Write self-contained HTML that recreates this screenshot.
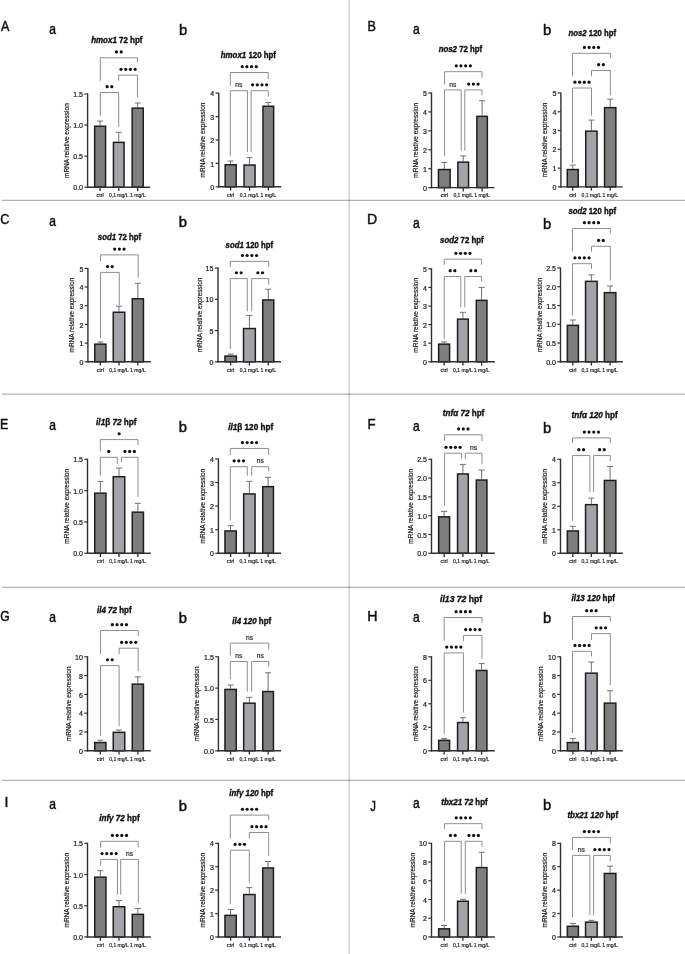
<!DOCTYPE html><html><head><meta charset="utf-8"><style>html,body{margin:0;padding:0;background:#fff;}svg{display:block;will-change:transform;}text{font-family:"Liberation Sans", sans-serif;}</style></head><body>
<svg width="685" height="954" viewBox="0 0 685 954">
<rect width="685" height="954" fill="#fff"/>
<line x1="349.15" y1="0" x2="349.15" y2="954" stroke="#000" stroke-opacity="0.24" stroke-width="1.2"/>
<line x1="2" y1="200.4" x2="685" y2="200.4" stroke="#000" stroke-opacity="0.3" stroke-width="1.2"/>
<line x1="2" y1="394.2" x2="685" y2="394.2" stroke="#000" stroke-opacity="0.3" stroke-width="1.2"/>
<line x1="2" y1="587.3" x2="685" y2="587.3" stroke="#000" stroke-opacity="0.3" stroke-width="1.2"/>
<line x1="2" y1="780.4" x2="685" y2="780.4" stroke="#000" stroke-opacity="0.3" stroke-width="1.2"/>
<line x1="100.1" y1="125.5" x2="100.1" y2="121.1" stroke="#707070" stroke-width="1"/>
<line x1="97.1" y1="121.1" x2="103.1" y2="121.1" stroke="#707070" stroke-width="1"/>
<rect x="94.65" y="126.25" width="10.9" height="60.95" fill="#7e7e7e" stroke="#1e1e1e" stroke-width="1.5"/>
<line x1="100.1" y1="187.2" x2="100.1" y2="191" stroke="#303030" stroke-width="1.3"/>
<line x1="118.75" y1="141.6" x2="118.75" y2="132.3" stroke="#707070" stroke-width="1"/>
<line x1="115.75" y1="132.3" x2="121.75" y2="132.3" stroke="#707070" stroke-width="1"/>
<rect x="113.45" y="142.35" width="10.6" height="44.85" fill="#a4a3a9" stroke="#1e1e1e" stroke-width="1.5"/>
<line x1="118.75" y1="187.2" x2="118.75" y2="191" stroke="#303030" stroke-width="1.3"/>
<line x1="137.7" y1="107.4" x2="137.7" y2="103" stroke="#707070" stroke-width="1"/>
<line x1="134.7" y1="103" x2="140.7" y2="103" stroke="#707070" stroke-width="1"/>
<rect x="132.15" y="108.15" width="11.1" height="79.05" fill="#7e7e7e" stroke="#1e1e1e" stroke-width="1.5"/>
<line x1="137.7" y1="187.2" x2="137.7" y2="191" stroke="#303030" stroke-width="1.3"/>
<line x1="87.6" y1="93.5" x2="87.6" y2="187.9" stroke="#303030" stroke-width="1.4"/>
<line x1="86.9" y1="187.2" x2="150.1" y2="187.2" stroke="#303030" stroke-width="1.4"/>
<line x1="84.4" y1="187.2" x2="87.6" y2="187.2" stroke="#303030" stroke-width="1.2"/>
<text x="83" y="190.3" font-size="7.0" text-anchor="end" fill="#1e1e1e" stroke="#1e1e1e" stroke-width="0.22">0.0</text>
<line x1="84.4" y1="156.13" x2="87.6" y2="156.13" stroke="#303030" stroke-width="1.2"/>
<text x="83" y="159.23" font-size="7.0" text-anchor="end" fill="#1e1e1e" stroke="#1e1e1e" stroke-width="0.22">0.5</text>
<line x1="84.4" y1="125.07" x2="87.6" y2="125.07" stroke="#303030" stroke-width="1.2"/>
<text x="83" y="128.17" font-size="7.0" text-anchor="end" fill="#1e1e1e" stroke="#1e1e1e" stroke-width="0.22">1.0</text>
<line x1="84.4" y1="94" x2="87.6" y2="94" stroke="#303030" stroke-width="1.2"/>
<text x="83" y="97.1" font-size="7.0" text-anchor="end" fill="#1e1e1e" stroke="#1e1e1e" stroke-width="0.22">1.5</text>
<text transform="translate(67.7 140.6) rotate(-90)" font-size="6.5" text-anchor="middle" fill="#1e1e1e" stroke="#1e1e1e" stroke-width="0.2" y="1.4">mRNA relative expression</text>
<text x="100.1" y="197" font-size="5.6" text-anchor="middle" fill="#1e1e1e" stroke="#1e1e1e" stroke-width="0.2" textLength="7.1" lengthAdjust="spacingAndGlyphs">ctrl</text>
<text x="118.75" y="197" font-size="5.6" text-anchor="middle" fill="#1e1e1e" stroke="#1e1e1e" stroke-width="0.2" textLength="19.6" lengthAdjust="spacingAndGlyphs">0,1 mg/L</text>
<text x="137.7" y="197" font-size="5.6" text-anchor="middle" fill="#1e1e1e" stroke="#1e1e1e" stroke-width="0.2" textLength="15.6" lengthAdjust="spacingAndGlyphs">1 mg/L</text>
<path d="M100.3 80.7V57.8H137.4V62.5" fill="none" stroke="#8e8e8e" stroke-width="1"/>
<circle cx="116.5" cy="51.95" r="1.6" fill="#111"/>
<circle cx="121.2" cy="51.95" r="1.6" fill="#111"/>
<path d="M118.7 80.7V75.15H137.4V97.7" fill="none" stroke="#8e8e8e" stroke-width="1"/>
<circle cx="121" cy="69.3" r="1.6" fill="#111"/>
<circle cx="125.7" cy="69.3" r="1.6" fill="#111"/>
<circle cx="130.4" cy="69.3" r="1.6" fill="#111"/>
<circle cx="135.1" cy="69.3" r="1.6" fill="#111"/>
<path d="M100.3 115.8V92.5H118.7V126.8" fill="none" stroke="#8e8e8e" stroke-width="1"/>
<circle cx="107.15" cy="86.65" r="1.6" fill="#111"/>
<circle cx="111.85" cy="86.65" r="1.6" fill="#111"/>
<text x="91.2" y="43" font-size="8.4" font-weight="bold" fill="#111" stroke="#111" stroke-width="0.35" textLength="51.3" lengthAdjust="spacingAndGlyphs"><tspan font-style="italic">hmox1</tspan><tspan> 72 hpf</tspan></text>
<line x1="230.65" y1="164" x2="230.65" y2="161" stroke="#707070" stroke-width="1"/>
<line x1="227.65" y1="161" x2="233.65" y2="161" stroke="#707070" stroke-width="1"/>
<rect x="225.15" y="164.75" width="11" height="22.05" fill="#7e7e7e" stroke="#1e1e1e" stroke-width="1.5"/>
<line x1="230.65" y1="186.8" x2="230.65" y2="190.6" stroke="#303030" stroke-width="1.3"/>
<line x1="249.55" y1="164.3" x2="249.55" y2="157.7" stroke="#707070" stroke-width="1"/>
<line x1="246.55" y1="157.7" x2="252.55" y2="157.7" stroke="#707070" stroke-width="1"/>
<rect x="244.05" y="165.05" width="11" height="21.75" fill="#a4a3a9" stroke="#1e1e1e" stroke-width="1.5"/>
<line x1="249.55" y1="186.8" x2="249.55" y2="190.6" stroke="#303030" stroke-width="1.3"/>
<line x1="268.3" y1="105.5" x2="268.3" y2="102.5" stroke="#707070" stroke-width="1"/>
<line x1="265.3" y1="102.5" x2="271.3" y2="102.5" stroke="#707070" stroke-width="1"/>
<rect x="262.95" y="106.25" width="10.7" height="80.55" fill="#7e7e7e" stroke="#1e1e1e" stroke-width="1.5"/>
<line x1="268.3" y1="186.8" x2="268.3" y2="190.6" stroke="#303030" stroke-width="1.3"/>
<line x1="218.8" y1="92.7" x2="218.8" y2="187.5" stroke="#303030" stroke-width="1.4"/>
<line x1="218.1" y1="186.8" x2="281.2" y2="186.8" stroke="#303030" stroke-width="1.4"/>
<line x1="215.6" y1="186.8" x2="218.8" y2="186.8" stroke="#303030" stroke-width="1.2"/>
<text x="214.2" y="189.9" font-size="7.0" text-anchor="end" fill="#1e1e1e" stroke="#1e1e1e" stroke-width="0.22">0</text>
<line x1="215.6" y1="163.4" x2="218.8" y2="163.4" stroke="#303030" stroke-width="1.2"/>
<text x="214.2" y="166.5" font-size="7.0" text-anchor="end" fill="#1e1e1e" stroke="#1e1e1e" stroke-width="0.22">1</text>
<line x1="215.6" y1="140" x2="218.8" y2="140" stroke="#303030" stroke-width="1.2"/>
<text x="214.2" y="143.1" font-size="7.0" text-anchor="end" fill="#1e1e1e" stroke="#1e1e1e" stroke-width="0.22">2</text>
<line x1="215.6" y1="116.6" x2="218.8" y2="116.6" stroke="#303030" stroke-width="1.2"/>
<text x="214.2" y="119.7" font-size="7.0" text-anchor="end" fill="#1e1e1e" stroke="#1e1e1e" stroke-width="0.22">3</text>
<line x1="215.6" y1="93.2" x2="218.8" y2="93.2" stroke="#303030" stroke-width="1.2"/>
<text x="214.2" y="96.3" font-size="7.0" text-anchor="end" fill="#1e1e1e" stroke="#1e1e1e" stroke-width="0.22">4</text>
<text transform="translate(203.7 140) rotate(-90)" font-size="6.5" text-anchor="middle" fill="#1e1e1e" stroke="#1e1e1e" stroke-width="0.2" y="1.4">mRNA relative expression</text>
<text x="230.65" y="196.6" font-size="5.6" text-anchor="middle" fill="#1e1e1e" stroke="#1e1e1e" stroke-width="0.2" textLength="7.1" lengthAdjust="spacingAndGlyphs">ctrl</text>
<text x="249.55" y="196.6" font-size="5.6" text-anchor="middle" fill="#1e1e1e" stroke="#1e1e1e" stroke-width="0.2" textLength="19.6" lengthAdjust="spacingAndGlyphs">0,1 mg/L</text>
<text x="268.3" y="196.6" font-size="5.6" text-anchor="middle" fill="#1e1e1e" stroke="#1e1e1e" stroke-width="0.2" textLength="15.6" lengthAdjust="spacingAndGlyphs">1 mg/L</text>
<path d="M230.3 85.7V72.5H268.2V79" fill="none" stroke="#8e8e8e" stroke-width="1"/>
<circle cx="242.2" cy="66.65" r="1.6" fill="#111"/>
<circle cx="246.9" cy="66.65" r="1.6" fill="#111"/>
<circle cx="251.6" cy="66.65" r="1.6" fill="#111"/>
<circle cx="256.3" cy="66.65" r="1.6" fill="#111"/>
<path d="M230.3 155.8V90.7H247.4V152" fill="none" stroke="#8e8e8e" stroke-width="1"/>
<text x="238.85" y="87.3" font-size="6.7" text-anchor="middle" fill="#333" stroke="#333" stroke-width="0.22">ns</text>
<path d="M251.1 152V90.7H268.2V96.5" fill="none" stroke="#8e8e8e" stroke-width="1"/>
<circle cx="252.6" cy="84.85" r="1.6" fill="#111"/>
<circle cx="257.3" cy="84.85" r="1.6" fill="#111"/>
<circle cx="262" cy="84.85" r="1.6" fill="#111"/>
<circle cx="266.7" cy="84.85" r="1.6" fill="#111"/>
<text x="220.8" y="58.1" font-size="8.4" font-weight="bold" fill="#111" stroke="#111" stroke-width="0.35" textLength="55.2" lengthAdjust="spacingAndGlyphs"><tspan font-style="italic">hmox1</tspan><tspan> 120 hpf</tspan></text>
<line x1="444.3" y1="168.8" x2="444.3" y2="162.4" stroke="#707070" stroke-width="1"/>
<line x1="441.3" y1="162.4" x2="447.3" y2="162.4" stroke="#707070" stroke-width="1"/>
<rect x="438.45" y="169.55" width="11.7" height="18.05" fill="#7e7e7e" stroke="#1e1e1e" stroke-width="1.5"/>
<line x1="444.3" y1="187.6" x2="444.3" y2="191.4" stroke="#303030" stroke-width="1.3"/>
<line x1="463.2" y1="161.4" x2="463.2" y2="155.9" stroke="#707070" stroke-width="1"/>
<line x1="460.2" y1="155.9" x2="466.2" y2="155.9" stroke="#707070" stroke-width="1"/>
<rect x="457.85" y="162.15" width="10.7" height="25.45" fill="#a4a3a9" stroke="#1e1e1e" stroke-width="1.5"/>
<line x1="463.2" y1="187.6" x2="463.2" y2="191.4" stroke="#303030" stroke-width="1.3"/>
<line x1="482.1" y1="115.6" x2="482.1" y2="100.7" stroke="#707070" stroke-width="1"/>
<line x1="479.1" y1="100.7" x2="485.1" y2="100.7" stroke="#707070" stroke-width="1"/>
<rect x="476.85" y="116.35" width="10.5" height="71.25" fill="#7e7e7e" stroke="#1e1e1e" stroke-width="1.5"/>
<line x1="482.1" y1="187.6" x2="482.1" y2="191.4" stroke="#303030" stroke-width="1.3"/>
<line x1="431.5" y1="92.5" x2="431.5" y2="188.3" stroke="#303030" stroke-width="1.4"/>
<line x1="430.8" y1="187.6" x2="494.5" y2="187.6" stroke="#303030" stroke-width="1.4"/>
<line x1="428.3" y1="187.6" x2="431.5" y2="187.6" stroke="#303030" stroke-width="1.2"/>
<text x="426.9" y="190.7" font-size="7.0" text-anchor="end" fill="#1e1e1e" stroke="#1e1e1e" stroke-width="0.22">0</text>
<line x1="428.3" y1="168.68" x2="431.5" y2="168.68" stroke="#303030" stroke-width="1.2"/>
<text x="426.9" y="171.78" font-size="7.0" text-anchor="end" fill="#1e1e1e" stroke="#1e1e1e" stroke-width="0.22">1</text>
<line x1="428.3" y1="149.76" x2="431.5" y2="149.76" stroke="#303030" stroke-width="1.2"/>
<text x="426.9" y="152.86" font-size="7.0" text-anchor="end" fill="#1e1e1e" stroke="#1e1e1e" stroke-width="0.22">2</text>
<line x1="428.3" y1="130.84" x2="431.5" y2="130.84" stroke="#303030" stroke-width="1.2"/>
<text x="426.9" y="133.94" font-size="7.0" text-anchor="end" fill="#1e1e1e" stroke="#1e1e1e" stroke-width="0.22">3</text>
<line x1="428.3" y1="111.92" x2="431.5" y2="111.92" stroke="#303030" stroke-width="1.2"/>
<text x="426.9" y="115.02" font-size="7.0" text-anchor="end" fill="#1e1e1e" stroke="#1e1e1e" stroke-width="0.22">4</text>
<line x1="428.3" y1="93" x2="431.5" y2="93" stroke="#303030" stroke-width="1.2"/>
<text x="426.9" y="96.1" font-size="7.0" text-anchor="end" fill="#1e1e1e" stroke="#1e1e1e" stroke-width="0.22">5</text>
<text transform="translate(417 140.3) rotate(-90)" font-size="6.5" text-anchor="middle" fill="#1e1e1e" stroke="#1e1e1e" stroke-width="0.2" y="1.4">mRNA relative expression</text>
<text x="444.3" y="197.4" font-size="5.6" text-anchor="middle" fill="#1e1e1e" stroke="#1e1e1e" stroke-width="0.2" textLength="7.1" lengthAdjust="spacingAndGlyphs">ctrl</text>
<text x="463.2" y="197.4" font-size="5.6" text-anchor="middle" fill="#1e1e1e" stroke="#1e1e1e" stroke-width="0.2" textLength="19.6" lengthAdjust="spacingAndGlyphs">0,1 mg/L</text>
<text x="482.1" y="197.4" font-size="5.6" text-anchor="middle" fill="#1e1e1e" stroke="#1e1e1e" stroke-width="0.2" textLength="15.6" lengthAdjust="spacingAndGlyphs">1 mg/L</text>
<path d="M444.6 84.4V71.7H482V77.8" fill="none" stroke="#8e8e8e" stroke-width="1"/>
<circle cx="456.25" cy="65.85" r="1.6" fill="#111"/>
<circle cx="460.95" cy="65.85" r="1.6" fill="#111"/>
<circle cx="465.65" cy="65.85" r="1.6" fill="#111"/>
<circle cx="470.35" cy="65.85" r="1.6" fill="#111"/>
<path d="M444.6 155.9V89.9H461.2V150.8" fill="none" stroke="#8e8e8e" stroke-width="1"/>
<text x="452.9" y="86.5" font-size="6.7" text-anchor="middle" fill="#333" stroke="#333" stroke-width="0.22">ns</text>
<path d="M464.8 150.8V89.9H482V95.2" fill="none" stroke="#8e8e8e" stroke-width="1"/>
<circle cx="468.7" cy="84.05" r="1.6" fill="#111"/>
<circle cx="473.4" cy="84.05" r="1.6" fill="#111"/>
<circle cx="478.1" cy="84.05" r="1.6" fill="#111"/>
<text x="438.7" y="52.1" font-size="8.4" font-weight="bold" fill="#111" stroke="#111" stroke-width="0.35" textLength="43.5" lengthAdjust="spacingAndGlyphs"><tspan font-style="italic">nos2</tspan><tspan> 72 hpf</tspan></text>
<line x1="572.75" y1="168.8" x2="572.75" y2="165.1" stroke="#707070" stroke-width="1"/>
<line x1="569.75" y1="165.1" x2="575.75" y2="165.1" stroke="#707070" stroke-width="1"/>
<rect x="567.25" y="169.55" width="11" height="17.35" fill="#7e7e7e" stroke="#1e1e1e" stroke-width="1.5"/>
<line x1="572.75" y1="186.9" x2="572.75" y2="190.7" stroke="#303030" stroke-width="1.3"/>
<line x1="591.4" y1="130.4" x2="591.4" y2="120.1" stroke="#707070" stroke-width="1"/>
<line x1="588.4" y1="120.1" x2="594.4" y2="120.1" stroke="#707070" stroke-width="1"/>
<rect x="585.75" y="131.15" width="11.3" height="55.75" fill="#a4a3a9" stroke="#1e1e1e" stroke-width="1.5"/>
<line x1="591.4" y1="186.9" x2="591.4" y2="190.7" stroke="#303030" stroke-width="1.3"/>
<line x1="610.2" y1="106.9" x2="610.2" y2="99.1" stroke="#707070" stroke-width="1"/>
<line x1="607.2" y1="99.1" x2="613.2" y2="99.1" stroke="#707070" stroke-width="1"/>
<rect x="604.55" y="107.65" width="11.3" height="79.25" fill="#7e7e7e" stroke="#1e1e1e" stroke-width="1.5"/>
<line x1="610.2" y1="186.9" x2="610.2" y2="190.7" stroke="#303030" stroke-width="1.3"/>
<line x1="560.9" y1="92.5" x2="560.9" y2="187.6" stroke="#303030" stroke-width="1.4"/>
<line x1="560.2" y1="186.9" x2="622.8" y2="186.9" stroke="#303030" stroke-width="1.4"/>
<line x1="557.7" y1="186.9" x2="560.9" y2="186.9" stroke="#303030" stroke-width="1.2"/>
<text x="556.3" y="190" font-size="7.0" text-anchor="end" fill="#1e1e1e" stroke="#1e1e1e" stroke-width="0.22">0</text>
<line x1="557.7" y1="168.12" x2="560.9" y2="168.12" stroke="#303030" stroke-width="1.2"/>
<text x="556.3" y="171.22" font-size="7.0" text-anchor="end" fill="#1e1e1e" stroke="#1e1e1e" stroke-width="0.22">1</text>
<line x1="557.7" y1="149.34" x2="560.9" y2="149.34" stroke="#303030" stroke-width="1.2"/>
<text x="556.3" y="152.44" font-size="7.0" text-anchor="end" fill="#1e1e1e" stroke="#1e1e1e" stroke-width="0.22">2</text>
<line x1="557.7" y1="130.56" x2="560.9" y2="130.56" stroke="#303030" stroke-width="1.2"/>
<text x="556.3" y="133.66" font-size="7.0" text-anchor="end" fill="#1e1e1e" stroke="#1e1e1e" stroke-width="0.22">3</text>
<line x1="557.7" y1="111.78" x2="560.9" y2="111.78" stroke="#303030" stroke-width="1.2"/>
<text x="556.3" y="114.88" font-size="7.0" text-anchor="end" fill="#1e1e1e" stroke="#1e1e1e" stroke-width="0.22">4</text>
<line x1="557.7" y1="93" x2="560.9" y2="93" stroke="#303030" stroke-width="1.2"/>
<text x="556.3" y="96.1" font-size="7.0" text-anchor="end" fill="#1e1e1e" stroke="#1e1e1e" stroke-width="0.22">5</text>
<text transform="translate(545.5 139.95) rotate(-90)" font-size="6.5" text-anchor="middle" fill="#1e1e1e" stroke="#1e1e1e" stroke-width="0.2" y="1.4">mRNA relative expression</text>
<text x="572.75" y="196.7" font-size="5.6" text-anchor="middle" fill="#1e1e1e" stroke="#1e1e1e" stroke-width="0.2" textLength="7.1" lengthAdjust="spacingAndGlyphs">ctrl</text>
<text x="591.4" y="196.7" font-size="5.6" text-anchor="middle" fill="#1e1e1e" stroke="#1e1e1e" stroke-width="0.2" textLength="19.6" lengthAdjust="spacingAndGlyphs">0,1 mg/L</text>
<text x="610.2" y="196.7" font-size="5.6" text-anchor="middle" fill="#1e1e1e" stroke="#1e1e1e" stroke-width="0.2" textLength="15.6" lengthAdjust="spacingAndGlyphs">1 mg/L</text>
<path d="M572.5 76.3V53.3H610.4V57.8" fill="none" stroke="#8e8e8e" stroke-width="1"/>
<circle cx="584.4" cy="47.45" r="1.6" fill="#111"/>
<circle cx="589.1" cy="47.45" r="1.6" fill="#111"/>
<circle cx="593.8" cy="47.45" r="1.6" fill="#111"/>
<circle cx="598.5" cy="47.45" r="1.6" fill="#111"/>
<path d="M591.5 76.3V70.5H610.4V95.2" fill="none" stroke="#8e8e8e" stroke-width="1"/>
<circle cx="598.6" cy="64.65" r="1.6" fill="#111"/>
<circle cx="603.3" cy="64.65" r="1.6" fill="#111"/>
<path d="M572.5 163V88H591.5V115.6" fill="none" stroke="#8e8e8e" stroke-width="1"/>
<circle cx="574.95" cy="82.15" r="1.6" fill="#111"/>
<circle cx="579.65" cy="82.15" r="1.6" fill="#111"/>
<circle cx="584.35" cy="82.15" r="1.6" fill="#111"/>
<circle cx="589.05" cy="82.15" r="1.6" fill="#111"/>
<text x="568.6" y="35.8" font-size="8.4" font-weight="bold" fill="#111" stroke="#111" stroke-width="0.35" textLength="47.4" lengthAdjust="spacingAndGlyphs"><tspan font-style="italic">nos2</tspan><tspan> 120 hpf</tspan></text>
<line x1="100.35" y1="343.4" x2="100.35" y2="342" stroke="#707070" stroke-width="1"/>
<line x1="97.35" y1="342" x2="103.35" y2="342" stroke="#707070" stroke-width="1"/>
<rect x="94.75" y="344.15" width="11.2" height="17.65" fill="#7e7e7e" stroke="#1e1e1e" stroke-width="1.5"/>
<line x1="100.35" y1="361.8" x2="100.35" y2="365.6" stroke="#303030" stroke-width="1.3"/>
<line x1="119" y1="311.5" x2="119" y2="306.2" stroke="#707070" stroke-width="1"/>
<line x1="116" y1="306.2" x2="122" y2="306.2" stroke="#707070" stroke-width="1"/>
<rect x="113.25" y="312.25" width="11.5" height="49.55" fill="#a4a3a9" stroke="#1e1e1e" stroke-width="1.5"/>
<line x1="119" y1="361.8" x2="119" y2="365.6" stroke="#303030" stroke-width="1.3"/>
<line x1="137.85" y1="298" x2="137.85" y2="283.3" stroke="#707070" stroke-width="1"/>
<line x1="134.85" y1="283.3" x2="140.85" y2="283.3" stroke="#707070" stroke-width="1"/>
<rect x="132.25" y="298.75" width="11.2" height="63.05" fill="#7e7e7e" stroke="#1e1e1e" stroke-width="1.5"/>
<line x1="137.85" y1="361.8" x2="137.85" y2="365.6" stroke="#303030" stroke-width="1.3"/>
<line x1="87.9" y1="267.9" x2="87.9" y2="362.5" stroke="#303030" stroke-width="1.4"/>
<line x1="87.2" y1="361.8" x2="150.8" y2="361.8" stroke="#303030" stroke-width="1.4"/>
<line x1="84.7" y1="361.8" x2="87.9" y2="361.8" stroke="#303030" stroke-width="1.2"/>
<text x="83.3" y="364.9" font-size="7.0" text-anchor="end" fill="#1e1e1e" stroke="#1e1e1e" stroke-width="0.22">0</text>
<line x1="84.7" y1="343.12" x2="87.9" y2="343.12" stroke="#303030" stroke-width="1.2"/>
<text x="83.3" y="346.22" font-size="7.0" text-anchor="end" fill="#1e1e1e" stroke="#1e1e1e" stroke-width="0.22">1</text>
<line x1="84.7" y1="324.44" x2="87.9" y2="324.44" stroke="#303030" stroke-width="1.2"/>
<text x="83.3" y="327.54" font-size="7.0" text-anchor="end" fill="#1e1e1e" stroke="#1e1e1e" stroke-width="0.22">2</text>
<line x1="84.7" y1="305.76" x2="87.9" y2="305.76" stroke="#303030" stroke-width="1.2"/>
<text x="83.3" y="308.86" font-size="7.0" text-anchor="end" fill="#1e1e1e" stroke="#1e1e1e" stroke-width="0.22">3</text>
<line x1="84.7" y1="287.08" x2="87.9" y2="287.08" stroke="#303030" stroke-width="1.2"/>
<text x="83.3" y="290.18" font-size="7.0" text-anchor="end" fill="#1e1e1e" stroke="#1e1e1e" stroke-width="0.22">4</text>
<line x1="84.7" y1="268.4" x2="87.9" y2="268.4" stroke="#303030" stroke-width="1.2"/>
<text x="83.3" y="271.5" font-size="7.0" text-anchor="end" fill="#1e1e1e" stroke="#1e1e1e" stroke-width="0.22">5</text>
<text transform="translate(73 315.1) rotate(-90)" font-size="6.5" text-anchor="middle" fill="#1e1e1e" stroke="#1e1e1e" stroke-width="0.2" y="1.4">mRNA relative expression</text>
<text x="100.35" y="371.6" font-size="5.6" text-anchor="middle" fill="#1e1e1e" stroke="#1e1e1e" stroke-width="0.2" textLength="7.1" lengthAdjust="spacingAndGlyphs">ctrl</text>
<text x="119" y="371.6" font-size="5.6" text-anchor="middle" fill="#1e1e1e" stroke="#1e1e1e" stroke-width="0.2" textLength="19.6" lengthAdjust="spacingAndGlyphs">0,1 mg/L</text>
<text x="137.85" y="371.6" font-size="5.6" text-anchor="middle" fill="#1e1e1e" stroke="#1e1e1e" stroke-width="0.2" textLength="15.6" lengthAdjust="spacingAndGlyphs">1 mg/L</text>
<path d="M100.5 261.1V254.9H138.2V277.6" fill="none" stroke="#8e8e8e" stroke-width="1"/>
<circle cx="114.65" cy="249.05" r="1.6" fill="#111"/>
<circle cx="119.35" cy="249.05" r="1.6" fill="#111"/>
<circle cx="124.05" cy="249.05" r="1.6" fill="#111"/>
<path d="M100.5 337.8V272.4H119.3V305.1" fill="none" stroke="#8e8e8e" stroke-width="1"/>
<circle cx="107.55" cy="266.55" r="1.6" fill="#111"/>
<circle cx="112.25" cy="266.55" r="1.6" fill="#111"/>
<text x="97.8" y="240.2" font-size="8.4" font-weight="bold" fill="#111" stroke="#111" stroke-width="0.35" textLength="43.3" lengthAdjust="spacingAndGlyphs"><tspan font-style="italic">sod1</tspan><tspan> 72 hpf</tspan></text>
<line x1="230.65" y1="355.35" x2="230.65" y2="354.2" stroke="#707070" stroke-width="1"/>
<line x1="227.65" y1="354.2" x2="233.65" y2="354.2" stroke="#707070" stroke-width="1"/>
<rect x="224.95" y="356.1" width="11.4" height="5.7" fill="#7e7e7e" stroke="#1e1e1e" stroke-width="1.5"/>
<line x1="230.65" y1="361.8" x2="230.65" y2="365.6" stroke="#303030" stroke-width="1.3"/>
<line x1="249.43" y1="327.8" x2="249.43" y2="315.4" stroke="#707070" stroke-width="1"/>
<line x1="246.43" y1="315.4" x2="252.43" y2="315.4" stroke="#707070" stroke-width="1"/>
<rect x="243.5" y="328.55" width="11.85" height="33.25" fill="#a4a3a9" stroke="#1e1e1e" stroke-width="1.5"/>
<line x1="249.43" y1="361.8" x2="249.43" y2="365.6" stroke="#303030" stroke-width="1.3"/>
<line x1="268.25" y1="299.2" x2="268.25" y2="289.2" stroke="#707070" stroke-width="1"/>
<line x1="265.25" y1="289.2" x2="271.25" y2="289.2" stroke="#707070" stroke-width="1"/>
<rect x="262.75" y="299.95" width="11" height="61.85" fill="#7e7e7e" stroke="#1e1e1e" stroke-width="1.5"/>
<line x1="268.25" y1="361.8" x2="268.25" y2="365.6" stroke="#303030" stroke-width="1.3"/>
<line x1="218" y1="267.5" x2="218" y2="362.5" stroke="#303030" stroke-width="1.4"/>
<line x1="217.3" y1="361.8" x2="281" y2="361.8" stroke="#303030" stroke-width="1.4"/>
<line x1="214.8" y1="361.8" x2="218" y2="361.8" stroke="#303030" stroke-width="1.2"/>
<text x="213.4" y="364.9" font-size="7.0" text-anchor="end" fill="#1e1e1e" stroke="#1e1e1e" stroke-width="0.22">0</text>
<line x1="214.8" y1="330.53" x2="218" y2="330.53" stroke="#303030" stroke-width="1.2"/>
<text x="213.4" y="333.63" font-size="7.0" text-anchor="end" fill="#1e1e1e" stroke="#1e1e1e" stroke-width="0.22">5</text>
<line x1="214.8" y1="299.27" x2="218" y2="299.27" stroke="#303030" stroke-width="1.2"/>
<text x="213.4" y="302.37" font-size="7.0" text-anchor="end" fill="#1e1e1e" stroke="#1e1e1e" stroke-width="0.22">10</text>
<line x1="214.8" y1="268" x2="218" y2="268" stroke="#303030" stroke-width="1.2"/>
<text x="213.4" y="271.1" font-size="7.0" text-anchor="end" fill="#1e1e1e" stroke="#1e1e1e" stroke-width="0.22">15</text>
<text transform="translate(200.6 314.9) rotate(-90)" font-size="6.5" text-anchor="middle" fill="#1e1e1e" stroke="#1e1e1e" stroke-width="0.2" y="1.4">mRNA relative expression</text>
<text x="230.65" y="371.6" font-size="5.6" text-anchor="middle" fill="#1e1e1e" stroke="#1e1e1e" stroke-width="0.2" textLength="7.1" lengthAdjust="spacingAndGlyphs">ctrl</text>
<text x="249.43" y="371.6" font-size="5.6" text-anchor="middle" fill="#1e1e1e" stroke="#1e1e1e" stroke-width="0.2" textLength="19.6" lengthAdjust="spacingAndGlyphs">0,1 mg/L</text>
<text x="268.25" y="371.6" font-size="5.6" text-anchor="middle" fill="#1e1e1e" stroke="#1e1e1e" stroke-width="0.2" textLength="15.6" lengthAdjust="spacingAndGlyphs">1 mg/L</text>
<path d="M230.3 267V261.35H268.7V267" fill="none" stroke="#8e8e8e" stroke-width="1"/>
<circle cx="242.45" cy="255.5" r="1.6" fill="#111"/>
<circle cx="247.15" cy="255.5" r="1.6" fill="#111"/>
<circle cx="251.85" cy="255.5" r="1.6" fill="#111"/>
<circle cx="256.55" cy="255.5" r="1.6" fill="#111"/>
<path d="M230.3 349V278.6H247.3V311.3" fill="none" stroke="#8e8e8e" stroke-width="1"/>
<circle cx="236.45" cy="272.75" r="1.6" fill="#111"/>
<circle cx="241.15" cy="272.75" r="1.6" fill="#111"/>
<path d="M251.7 311.3V278.6H268.7V284.7" fill="none" stroke="#8e8e8e" stroke-width="1"/>
<circle cx="257.85" cy="272.75" r="1.6" fill="#111"/>
<circle cx="262.55" cy="272.75" r="1.6" fill="#111"/>
<text x="225.6" y="247.7" font-size="8.4" font-weight="bold" fill="#111" stroke="#111" stroke-width="0.35" textLength="47.6" lengthAdjust="spacingAndGlyphs"><tspan font-style="italic">sod1</tspan><tspan> 120 hpf</tspan></text>
<line x1="444.12" y1="343.4" x2="444.12" y2="342" stroke="#707070" stroke-width="1"/>
<line x1="441.12" y1="342" x2="447.12" y2="342" stroke="#707070" stroke-width="1"/>
<rect x="438.65" y="344.15" width="10.95" height="17.65" fill="#7e7e7e" stroke="#1e1e1e" stroke-width="1.5"/>
<line x1="444.12" y1="361.8" x2="444.12" y2="365.6" stroke="#303030" stroke-width="1.3"/>
<line x1="462.9" y1="318.4" x2="462.9" y2="312.3" stroke="#707070" stroke-width="1"/>
<line x1="459.9" y1="312.3" x2="465.9" y2="312.3" stroke="#707070" stroke-width="1"/>
<rect x="457.55" y="319.15" width="10.7" height="42.65" fill="#a4a3a9" stroke="#1e1e1e" stroke-width="1.5"/>
<line x1="462.9" y1="361.8" x2="462.9" y2="365.6" stroke="#303030" stroke-width="1.3"/>
<line x1="481.62" y1="299.6" x2="481.62" y2="287.4" stroke="#707070" stroke-width="1"/>
<line x1="478.62" y1="287.4" x2="484.62" y2="287.4" stroke="#707070" stroke-width="1"/>
<rect x="476.3" y="300.35" width="10.65" height="61.45" fill="#7e7e7e" stroke="#1e1e1e" stroke-width="1.5"/>
<line x1="481.62" y1="361.8" x2="481.62" y2="365.6" stroke="#303030" stroke-width="1.3"/>
<line x1="431.5" y1="268.3" x2="431.5" y2="362.5" stroke="#303030" stroke-width="1.4"/>
<line x1="430.8" y1="361.8" x2="494.8" y2="361.8" stroke="#303030" stroke-width="1.4"/>
<line x1="428.3" y1="361.8" x2="431.5" y2="361.8" stroke="#303030" stroke-width="1.2"/>
<text x="426.9" y="364.9" font-size="7.0" text-anchor="end" fill="#1e1e1e" stroke="#1e1e1e" stroke-width="0.22">0</text>
<line x1="428.3" y1="343.2" x2="431.5" y2="343.2" stroke="#303030" stroke-width="1.2"/>
<text x="426.9" y="346.3" font-size="7.0" text-anchor="end" fill="#1e1e1e" stroke="#1e1e1e" stroke-width="0.22">1</text>
<line x1="428.3" y1="324.6" x2="431.5" y2="324.6" stroke="#303030" stroke-width="1.2"/>
<text x="426.9" y="327.7" font-size="7.0" text-anchor="end" fill="#1e1e1e" stroke="#1e1e1e" stroke-width="0.22">2</text>
<line x1="428.3" y1="306" x2="431.5" y2="306" stroke="#303030" stroke-width="1.2"/>
<text x="426.9" y="309.1" font-size="7.0" text-anchor="end" fill="#1e1e1e" stroke="#1e1e1e" stroke-width="0.22">3</text>
<line x1="428.3" y1="287.4" x2="431.5" y2="287.4" stroke="#303030" stroke-width="1.2"/>
<text x="426.9" y="290.5" font-size="7.0" text-anchor="end" fill="#1e1e1e" stroke="#1e1e1e" stroke-width="0.22">4</text>
<line x1="428.3" y1="268.8" x2="431.5" y2="268.8" stroke="#303030" stroke-width="1.2"/>
<text x="426.9" y="271.9" font-size="7.0" text-anchor="end" fill="#1e1e1e" stroke="#1e1e1e" stroke-width="0.22">5</text>
<text transform="translate(417 315.3) rotate(-90)" font-size="6.5" text-anchor="middle" fill="#1e1e1e" stroke="#1e1e1e" stroke-width="0.2" y="1.4">mRNA relative expression</text>
<text x="444.12" y="371.6" font-size="5.6" text-anchor="middle" fill="#1e1e1e" stroke="#1e1e1e" stroke-width="0.2" textLength="7.1" lengthAdjust="spacingAndGlyphs">ctrl</text>
<text x="462.9" y="371.6" font-size="5.6" text-anchor="middle" fill="#1e1e1e" stroke="#1e1e1e" stroke-width="0.2" textLength="19.6" lengthAdjust="spacingAndGlyphs">0,1 mg/L</text>
<text x="481.62" y="371.6" font-size="5.6" text-anchor="middle" fill="#1e1e1e" stroke="#1e1e1e" stroke-width="0.2" textLength="15.6" lengthAdjust="spacingAndGlyphs">1 mg/L</text>
<path d="M444.2 264.8V259.2H481.6V264.8" fill="none" stroke="#8e8e8e" stroke-width="1"/>
<circle cx="455.85" cy="253.35" r="1.6" fill="#111"/>
<circle cx="460.55" cy="253.35" r="1.6" fill="#111"/>
<circle cx="465.25" cy="253.35" r="1.6" fill="#111"/>
<circle cx="469.95" cy="253.35" r="1.6" fill="#111"/>
<path d="M444.2 338.9V276.5H460.8V307.2" fill="none" stroke="#8e8e8e" stroke-width="1"/>
<circle cx="450.15" cy="270.65" r="1.6" fill="#111"/>
<circle cx="454.85" cy="270.65" r="1.6" fill="#111"/>
<path d="M464.8 307.2V276.5H481.6V281.7" fill="none" stroke="#8e8e8e" stroke-width="1"/>
<circle cx="470.85" cy="270.65" r="1.6" fill="#111"/>
<circle cx="475.55" cy="270.65" r="1.6" fill="#111"/>
<text x="440.1" y="243.2" font-size="8.4" font-weight="bold" fill="#111" stroke="#111" stroke-width="0.35" textLength="43.5" lengthAdjust="spacingAndGlyphs"><tspan font-style="italic">sod2</tspan><tspan> 72 hpf</tspan></text>
<line x1="572.88" y1="324.6" x2="572.88" y2="320" stroke="#707070" stroke-width="1"/>
<line x1="569.88" y1="320" x2="575.88" y2="320" stroke="#707070" stroke-width="1"/>
<rect x="567.35" y="325.35" width="11.05" height="36.45" fill="#7e7e7e" stroke="#1e1e1e" stroke-width="1.5"/>
<line x1="572.88" y1="361.8" x2="572.88" y2="365.6" stroke="#303030" stroke-width="1.3"/>
<line x1="591.35" y1="280.6" x2="591.35" y2="274.9" stroke="#707070" stroke-width="1"/>
<line x1="588.35" y1="274.9" x2="594.35" y2="274.9" stroke="#707070" stroke-width="1"/>
<rect x="585.55" y="281.35" width="11.6" height="80.45" fill="#a4a3a9" stroke="#1e1e1e" stroke-width="1.5"/>
<line x1="591.35" y1="361.8" x2="591.35" y2="365.6" stroke="#303030" stroke-width="1.3"/>
<line x1="610.1" y1="291.9" x2="610.1" y2="286" stroke="#707070" stroke-width="1"/>
<line x1="607.1" y1="286" x2="613.1" y2="286" stroke="#707070" stroke-width="1"/>
<rect x="604.35" y="292.65" width="11.5" height="69.15" fill="#7e7e7e" stroke="#1e1e1e" stroke-width="1.5"/>
<line x1="610.1" y1="361.8" x2="610.1" y2="365.6" stroke="#303030" stroke-width="1.3"/>
<line x1="560.5" y1="267.5" x2="560.5" y2="362.5" stroke="#303030" stroke-width="1.4"/>
<line x1="559.8" y1="361.8" x2="622.8" y2="361.8" stroke="#303030" stroke-width="1.4"/>
<line x1="557.3" y1="361.8" x2="560.5" y2="361.8" stroke="#303030" stroke-width="1.2"/>
<text x="555.9" y="364.9" font-size="7.0" text-anchor="end" fill="#1e1e1e" stroke="#1e1e1e" stroke-width="0.22">0.0</text>
<line x1="557.3" y1="343.04" x2="560.5" y2="343.04" stroke="#303030" stroke-width="1.2"/>
<text x="555.9" y="346.14" font-size="7.0" text-anchor="end" fill="#1e1e1e" stroke="#1e1e1e" stroke-width="0.22">0.5</text>
<line x1="557.3" y1="324.28" x2="560.5" y2="324.28" stroke="#303030" stroke-width="1.2"/>
<text x="555.9" y="327.38" font-size="7.0" text-anchor="end" fill="#1e1e1e" stroke="#1e1e1e" stroke-width="0.22">1.0</text>
<line x1="557.3" y1="305.52" x2="560.5" y2="305.52" stroke="#303030" stroke-width="1.2"/>
<text x="555.9" y="308.62" font-size="7.0" text-anchor="end" fill="#1e1e1e" stroke="#1e1e1e" stroke-width="0.22">1.5</text>
<line x1="557.3" y1="286.76" x2="560.5" y2="286.76" stroke="#303030" stroke-width="1.2"/>
<text x="555.9" y="289.86" font-size="7.0" text-anchor="end" fill="#1e1e1e" stroke="#1e1e1e" stroke-width="0.22">2.0</text>
<line x1="557.3" y1="268" x2="560.5" y2="268" stroke="#303030" stroke-width="1.2"/>
<text x="555.9" y="271.1" font-size="7.0" text-anchor="end" fill="#1e1e1e" stroke="#1e1e1e" stroke-width="0.22">2.5</text>
<text transform="translate(540.5 314.9) rotate(-90)" font-size="6.5" text-anchor="middle" fill="#1e1e1e" stroke="#1e1e1e" stroke-width="0.2" y="1.4">mRNA relative expression</text>
<text x="572.88" y="371.6" font-size="5.6" text-anchor="middle" fill="#1e1e1e" stroke="#1e1e1e" stroke-width="0.2" textLength="7.1" lengthAdjust="spacingAndGlyphs">ctrl</text>
<text x="591.35" y="371.6" font-size="5.6" text-anchor="middle" fill="#1e1e1e" stroke="#1e1e1e" stroke-width="0.2" textLength="19.6" lengthAdjust="spacingAndGlyphs">0,1 mg/L</text>
<text x="610.1" y="371.6" font-size="5.6" text-anchor="middle" fill="#1e1e1e" stroke="#1e1e1e" stroke-width="0.2" textLength="15.6" lengthAdjust="spacingAndGlyphs">1 mg/L</text>
<path d="M572.5 251.6V228.5H610.35V233.6" fill="none" stroke="#8e8e8e" stroke-width="1"/>
<circle cx="584.38" cy="222.65" r="1.6" fill="#111"/>
<circle cx="589.08" cy="222.65" r="1.6" fill="#111"/>
<circle cx="593.77" cy="222.65" r="1.6" fill="#111"/>
<circle cx="598.48" cy="222.65" r="1.6" fill="#111"/>
<path d="M591.5 251.6V246.25H610.35V280.6" fill="none" stroke="#8e8e8e" stroke-width="1"/>
<circle cx="598.57" cy="240.4" r="1.6" fill="#111"/>
<circle cx="603.27" cy="240.4" r="1.6" fill="#111"/>
<path d="M572.5 315.4V263.7H591.5V269" fill="none" stroke="#8e8e8e" stroke-width="1"/>
<circle cx="574.95" cy="257.85" r="1.6" fill="#111"/>
<circle cx="579.65" cy="257.85" r="1.6" fill="#111"/>
<circle cx="584.35" cy="257.85" r="1.6" fill="#111"/>
<circle cx="589.05" cy="257.85" r="1.6" fill="#111"/>
<text x="568.4" y="214.2" font-size="8.4" font-weight="bold" fill="#111" stroke="#111" stroke-width="0.35" textLength="47.6" lengthAdjust="spacingAndGlyphs"><tspan font-style="italic">sod2</tspan><tspan> 120 hpf</tspan></text>
<line x1="100.35" y1="492.4" x2="100.35" y2="481.4" stroke="#707070" stroke-width="1"/>
<line x1="97.35" y1="481.4" x2="103.35" y2="481.4" stroke="#707070" stroke-width="1"/>
<rect x="94.75" y="493.15" width="11.2" height="60.15" fill="#7e7e7e" stroke="#1e1e1e" stroke-width="1.5"/>
<line x1="100.35" y1="553.3" x2="100.35" y2="557.1" stroke="#303030" stroke-width="1.3"/>
<line x1="119" y1="476" x2="119" y2="468.1" stroke="#707070" stroke-width="1"/>
<line x1="116" y1="468.1" x2="122" y2="468.1" stroke="#707070" stroke-width="1"/>
<rect x="113.25" y="476.75" width="11.5" height="76.55" fill="#a4a3a9" stroke="#1e1e1e" stroke-width="1.5"/>
<line x1="119" y1="553.3" x2="119" y2="557.1" stroke="#303030" stroke-width="1.3"/>
<line x1="137.85" y1="511.4" x2="137.85" y2="503.3" stroke="#707070" stroke-width="1"/>
<line x1="134.85" y1="503.3" x2="140.85" y2="503.3" stroke="#707070" stroke-width="1"/>
<rect x="132.25" y="512.15" width="11.2" height="41.15" fill="#7e7e7e" stroke="#1e1e1e" stroke-width="1.5"/>
<line x1="137.85" y1="553.3" x2="137.85" y2="557.1" stroke="#303030" stroke-width="1.3"/>
<line x1="87.5" y1="458.8" x2="87.5" y2="554" stroke="#303030" stroke-width="1.4"/>
<line x1="86.8" y1="553.3" x2="150.8" y2="553.3" stroke="#303030" stroke-width="1.4"/>
<line x1="84.3" y1="553.3" x2="87.5" y2="553.3" stroke="#303030" stroke-width="1.2"/>
<text x="82.9" y="556.4" font-size="7.0" text-anchor="end" fill="#1e1e1e" stroke="#1e1e1e" stroke-width="0.22">0.0</text>
<line x1="84.3" y1="521.97" x2="87.5" y2="521.97" stroke="#303030" stroke-width="1.2"/>
<text x="82.9" y="525.07" font-size="7.0" text-anchor="end" fill="#1e1e1e" stroke="#1e1e1e" stroke-width="0.22">0.5</text>
<line x1="84.3" y1="490.63" x2="87.5" y2="490.63" stroke="#303030" stroke-width="1.2"/>
<text x="82.9" y="493.73" font-size="7.0" text-anchor="end" fill="#1e1e1e" stroke="#1e1e1e" stroke-width="0.22">1.0</text>
<line x1="84.3" y1="459.3" x2="87.5" y2="459.3" stroke="#303030" stroke-width="1.2"/>
<text x="82.9" y="462.4" font-size="7.0" text-anchor="end" fill="#1e1e1e" stroke="#1e1e1e" stroke-width="0.22">1.5</text>
<text transform="translate(67.7 506.3) rotate(-90)" font-size="6.5" text-anchor="middle" fill="#1e1e1e" stroke="#1e1e1e" stroke-width="0.2" y="1.4">mRNA relative expression</text>
<text x="100.35" y="563.1" font-size="5.6" text-anchor="middle" fill="#1e1e1e" stroke="#1e1e1e" stroke-width="0.2" textLength="7.1" lengthAdjust="spacingAndGlyphs">ctrl</text>
<text x="119" y="563.1" font-size="5.6" text-anchor="middle" fill="#1e1e1e" stroke="#1e1e1e" stroke-width="0.2" textLength="19.6" lengthAdjust="spacingAndGlyphs">0,1 mg/L</text>
<text x="137.85" y="563.1" font-size="5.6" text-anchor="middle" fill="#1e1e1e" stroke="#1e1e1e" stroke-width="0.2" textLength="15.6" lengthAdjust="spacingAndGlyphs">1 mg/L</text>
<path d="M100.3 451.3V439.6H138V444.9" fill="none" stroke="#8e8e8e" stroke-width="1"/>
<circle cx="119.15" cy="433.75" r="1.6" fill="#111"/>
<path d="M100.3 475.7V457.3H117.3V463.8" fill="none" stroke="#8e8e8e" stroke-width="1"/>
<circle cx="108.8" cy="451.45" r="1.6" fill="#111"/>
<path d="M121.3 462.4V457.3H138V497.1" fill="none" stroke="#8e8e8e" stroke-width="1"/>
<circle cx="124.95" cy="451.45" r="1.6" fill="#111"/>
<circle cx="129.65" cy="451.45" r="1.6" fill="#111"/>
<circle cx="134.35" cy="451.45" r="1.6" fill="#111"/>
<text x="96.1" y="424.9" font-size="8.4" font-weight="bold" fill="#111" stroke="#111" stroke-width="0.35" textLength="40.5" lengthAdjust="spacingAndGlyphs"><tspan font-style="italic">il1</tspan><tspan>β</tspan><tspan font-style="italic"> 72</tspan><tspan> hpf</tspan></text>
<line x1="230.6" y1="530.2" x2="230.6" y2="525.7" stroke="#707070" stroke-width="1"/>
<line x1="227.6" y1="525.7" x2="233.6" y2="525.7" stroke="#707070" stroke-width="1"/>
<rect x="224.95" y="530.95" width="11.3" height="22.35" fill="#7e7e7e" stroke="#1e1e1e" stroke-width="1.5"/>
<line x1="230.6" y1="553.3" x2="230.6" y2="557.1" stroke="#303030" stroke-width="1.3"/>
<line x1="249.35" y1="493.2" x2="249.35" y2="481.4" stroke="#707070" stroke-width="1"/>
<line x1="246.35" y1="481.4" x2="252.35" y2="481.4" stroke="#707070" stroke-width="1"/>
<rect x="243.65" y="493.95" width="11.4" height="59.35" fill="#a4a3a9" stroke="#1e1e1e" stroke-width="1.5"/>
<line x1="249.35" y1="553.3" x2="249.35" y2="557.1" stroke="#303030" stroke-width="1.3"/>
<line x1="268.1" y1="485.9" x2="268.1" y2="477.3" stroke="#707070" stroke-width="1"/>
<line x1="265.1" y1="477.3" x2="271.1" y2="477.3" stroke="#707070" stroke-width="1"/>
<rect x="262.75" y="486.65" width="10.7" height="66.65" fill="#7e7e7e" stroke="#1e1e1e" stroke-width="1.5"/>
<line x1="268.1" y1="553.3" x2="268.1" y2="557.1" stroke="#303030" stroke-width="1.3"/>
<line x1="218.4" y1="458.4" x2="218.4" y2="554" stroke="#303030" stroke-width="1.4"/>
<line x1="217.7" y1="553.3" x2="281" y2="553.3" stroke="#303030" stroke-width="1.4"/>
<line x1="215.2" y1="553.3" x2="218.4" y2="553.3" stroke="#303030" stroke-width="1.2"/>
<text x="213.8" y="556.4" font-size="7.0" text-anchor="end" fill="#1e1e1e" stroke="#1e1e1e" stroke-width="0.22">0</text>
<line x1="215.2" y1="529.7" x2="218.4" y2="529.7" stroke="#303030" stroke-width="1.2"/>
<text x="213.8" y="532.8" font-size="7.0" text-anchor="end" fill="#1e1e1e" stroke="#1e1e1e" stroke-width="0.22">1</text>
<line x1="215.2" y1="506.1" x2="218.4" y2="506.1" stroke="#303030" stroke-width="1.2"/>
<text x="213.8" y="509.2" font-size="7.0" text-anchor="end" fill="#1e1e1e" stroke="#1e1e1e" stroke-width="0.22">2</text>
<line x1="215.2" y1="482.5" x2="218.4" y2="482.5" stroke="#303030" stroke-width="1.2"/>
<text x="213.8" y="485.6" font-size="7.0" text-anchor="end" fill="#1e1e1e" stroke="#1e1e1e" stroke-width="0.22">3</text>
<line x1="215.2" y1="458.9" x2="218.4" y2="458.9" stroke="#303030" stroke-width="1.2"/>
<text x="213.8" y="462" font-size="7.0" text-anchor="end" fill="#1e1e1e" stroke="#1e1e1e" stroke-width="0.22">4</text>
<text transform="translate(203.2 506.1) rotate(-90)" font-size="6.5" text-anchor="middle" fill="#1e1e1e" stroke="#1e1e1e" stroke-width="0.2" y="1.4">mRNA relative expression</text>
<text x="230.6" y="563.1" font-size="5.6" text-anchor="middle" fill="#1e1e1e" stroke="#1e1e1e" stroke-width="0.2" textLength="7.1" lengthAdjust="spacingAndGlyphs">ctrl</text>
<text x="249.35" y="563.1" font-size="5.6" text-anchor="middle" fill="#1e1e1e" stroke="#1e1e1e" stroke-width="0.2" textLength="19.6" lengthAdjust="spacingAndGlyphs">0,1 mg/L</text>
<text x="268.1" y="563.1" font-size="5.6" text-anchor="middle" fill="#1e1e1e" stroke="#1e1e1e" stroke-width="0.2" textLength="15.6" lengthAdjust="spacingAndGlyphs">1 mg/L</text>
<path d="M230.3 454.9V448.45H268.7V454.9" fill="none" stroke="#8e8e8e" stroke-width="1"/>
<circle cx="242.45" cy="442.6" r="1.6" fill="#111"/>
<circle cx="247.15" cy="442.6" r="1.6" fill="#111"/>
<circle cx="251.85" cy="442.6" r="1.6" fill="#111"/>
<circle cx="256.55" cy="442.6" r="1.6" fill="#111"/>
<path d="M230.3 520.6V466.7H247.3V475.7" fill="none" stroke="#8e8e8e" stroke-width="1"/>
<circle cx="234.1" cy="460.85" r="1.6" fill="#111"/>
<circle cx="238.8" cy="460.85" r="1.6" fill="#111"/>
<circle cx="243.5" cy="460.85" r="1.6" fill="#111"/>
<path d="M251.7 475.7V466.7H268.7V471.5" fill="none" stroke="#8e8e8e" stroke-width="1"/>
<text x="260.2" y="463.3" font-size="6.7" text-anchor="middle" fill="#333" stroke="#333" stroke-width="0.22">ns</text>
<text x="228.2" y="430.1" font-size="8.4" font-weight="bold" fill="#111" stroke="#111" stroke-width="0.35" textLength="45" lengthAdjust="spacingAndGlyphs"><tspan font-style="italic">il1</tspan><tspan>β</tspan><tspan> 120 hpf</tspan></text>
<line x1="444.12" y1="516.1" x2="444.12" y2="511.4" stroke="#707070" stroke-width="1"/>
<line x1="441.12" y1="511.4" x2="447.12" y2="511.4" stroke="#707070" stroke-width="1"/>
<rect x="438.65" y="516.85" width="10.95" height="36.45" fill="#7e7e7e" stroke="#1e1e1e" stroke-width="1.5"/>
<line x1="444.12" y1="553.3" x2="444.12" y2="557.1" stroke="#303030" stroke-width="1.3"/>
<line x1="462.9" y1="473.2" x2="462.9" y2="464.4" stroke="#707070" stroke-width="1"/>
<line x1="459.9" y1="464.4" x2="465.9" y2="464.4" stroke="#707070" stroke-width="1"/>
<rect x="457.55" y="473.95" width="10.7" height="79.35" fill="#a4a3a9" stroke="#1e1e1e" stroke-width="1.5"/>
<line x1="462.9" y1="553.3" x2="462.9" y2="557.1" stroke="#303030" stroke-width="1.3"/>
<line x1="481.62" y1="479.3" x2="481.62" y2="470.1" stroke="#707070" stroke-width="1"/>
<line x1="478.62" y1="470.1" x2="484.62" y2="470.1" stroke="#707070" stroke-width="1"/>
<rect x="476.3" y="480.05" width="10.65" height="73.25" fill="#7e7e7e" stroke="#1e1e1e" stroke-width="1.5"/>
<line x1="481.62" y1="553.3" x2="481.62" y2="557.1" stroke="#303030" stroke-width="1.3"/>
<line x1="431.5" y1="458.8" x2="431.5" y2="554" stroke="#303030" stroke-width="1.4"/>
<line x1="430.8" y1="553.3" x2="494.8" y2="553.3" stroke="#303030" stroke-width="1.4"/>
<line x1="428.3" y1="553.3" x2="431.5" y2="553.3" stroke="#303030" stroke-width="1.2"/>
<text x="426.9" y="556.4" font-size="7.0" text-anchor="end" fill="#1e1e1e" stroke="#1e1e1e" stroke-width="0.22">0.0</text>
<line x1="428.3" y1="534.5" x2="431.5" y2="534.5" stroke="#303030" stroke-width="1.2"/>
<text x="426.9" y="537.6" font-size="7.0" text-anchor="end" fill="#1e1e1e" stroke="#1e1e1e" stroke-width="0.22">0.5</text>
<line x1="428.3" y1="515.7" x2="431.5" y2="515.7" stroke="#303030" stroke-width="1.2"/>
<text x="426.9" y="518.8" font-size="7.0" text-anchor="end" fill="#1e1e1e" stroke="#1e1e1e" stroke-width="0.22">1.0</text>
<line x1="428.3" y1="496.9" x2="431.5" y2="496.9" stroke="#303030" stroke-width="1.2"/>
<text x="426.9" y="500" font-size="7.0" text-anchor="end" fill="#1e1e1e" stroke="#1e1e1e" stroke-width="0.22">1.5</text>
<line x1="428.3" y1="478.1" x2="431.5" y2="478.1" stroke="#303030" stroke-width="1.2"/>
<text x="426.9" y="481.2" font-size="7.0" text-anchor="end" fill="#1e1e1e" stroke="#1e1e1e" stroke-width="0.22">2.0</text>
<line x1="428.3" y1="459.3" x2="431.5" y2="459.3" stroke="#303030" stroke-width="1.2"/>
<text x="426.9" y="462.4" font-size="7.0" text-anchor="end" fill="#1e1e1e" stroke="#1e1e1e" stroke-width="0.22">2.5</text>
<text transform="translate(411.6 506.3) rotate(-90)" font-size="6.5" text-anchor="middle" fill="#1e1e1e" stroke="#1e1e1e" stroke-width="0.2" y="1.4">mRNA relative expression</text>
<text x="444.12" y="563.1" font-size="5.6" text-anchor="middle" fill="#1e1e1e" stroke="#1e1e1e" stroke-width="0.2" textLength="7.1" lengthAdjust="spacingAndGlyphs">ctrl</text>
<text x="462.9" y="563.1" font-size="5.6" text-anchor="middle" fill="#1e1e1e" stroke="#1e1e1e" stroke-width="0.2" textLength="19.6" lengthAdjust="spacingAndGlyphs">0,1 mg/L</text>
<text x="481.62" y="563.1" font-size="5.6" text-anchor="middle" fill="#1e1e1e" stroke="#1e1e1e" stroke-width="0.2" textLength="15.6" lengthAdjust="spacingAndGlyphs">1 mg/L</text>
<path d="M444.55 440.9V434.8H482V440.9" fill="none" stroke="#8e8e8e" stroke-width="1"/>
<circle cx="458.57" cy="428.95" r="1.6" fill="#111"/>
<circle cx="463.27" cy="428.95" r="1.6" fill="#111"/>
<circle cx="467.97" cy="428.95" r="1.6" fill="#111"/>
<path d="M444.55 505.3V453.2H461.6V458.9" fill="none" stroke="#8e8e8e" stroke-width="1"/>
<circle cx="446.03" cy="447.35" r="1.6" fill="#111"/>
<circle cx="450.73" cy="447.35" r="1.6" fill="#111"/>
<circle cx="455.43" cy="447.35" r="1.6" fill="#111"/>
<circle cx="460.13" cy="447.35" r="1.6" fill="#111"/>
<path d="M465.3 458.9V453.2H482V464.4" fill="none" stroke="#8e8e8e" stroke-width="1"/>
<text x="473.65" y="449.8" font-size="6.7" text-anchor="middle" fill="#333" stroke="#333" stroke-width="0.22">ns</text>
<text x="442.8" y="416.2" font-size="8.4" font-weight="bold" fill="#111" stroke="#111" stroke-width="0.35" textLength="41.5" lengthAdjust="spacingAndGlyphs"><tspan font-style="italic">tnfα 72</tspan><tspan> hpf</tspan></text>
<line x1="572.88" y1="530.2" x2="572.88" y2="526.3" stroke="#707070" stroke-width="1"/>
<line x1="569.88" y1="526.3" x2="575.88" y2="526.3" stroke="#707070" stroke-width="1"/>
<rect x="567.35" y="530.95" width="11.05" height="22.35" fill="#7e7e7e" stroke="#1e1e1e" stroke-width="1.5"/>
<line x1="572.88" y1="553.3" x2="572.88" y2="557.1" stroke="#303030" stroke-width="1.3"/>
<line x1="591.35" y1="503.9" x2="591.35" y2="498.1" stroke="#707070" stroke-width="1"/>
<line x1="588.35" y1="498.1" x2="594.35" y2="498.1" stroke="#707070" stroke-width="1"/>
<rect x="585.55" y="504.65" width="11.6" height="48.65" fill="#a4a3a9" stroke="#1e1e1e" stroke-width="1.5"/>
<line x1="591.35" y1="553.3" x2="591.35" y2="557.1" stroke="#303030" stroke-width="1.3"/>
<line x1="610.1" y1="479.7" x2="610.1" y2="466.5" stroke="#707070" stroke-width="1"/>
<line x1="607.1" y1="466.5" x2="613.1" y2="466.5" stroke="#707070" stroke-width="1"/>
<rect x="604.35" y="480.45" width="11.5" height="72.85" fill="#7e7e7e" stroke="#1e1e1e" stroke-width="1.5"/>
<line x1="610.1" y1="553.3" x2="610.1" y2="557.1" stroke="#303030" stroke-width="1.3"/>
<line x1="560.5" y1="458.8" x2="560.5" y2="554" stroke="#303030" stroke-width="1.4"/>
<line x1="559.8" y1="553.3" x2="622.8" y2="553.3" stroke="#303030" stroke-width="1.4"/>
<line x1="557.3" y1="553.3" x2="560.5" y2="553.3" stroke="#303030" stroke-width="1.2"/>
<text x="555.9" y="556.4" font-size="7.0" text-anchor="end" fill="#1e1e1e" stroke="#1e1e1e" stroke-width="0.22">0</text>
<line x1="557.3" y1="529.8" x2="560.5" y2="529.8" stroke="#303030" stroke-width="1.2"/>
<text x="555.9" y="532.9" font-size="7.0" text-anchor="end" fill="#1e1e1e" stroke="#1e1e1e" stroke-width="0.22">1</text>
<line x1="557.3" y1="506.3" x2="560.5" y2="506.3" stroke="#303030" stroke-width="1.2"/>
<text x="555.9" y="509.4" font-size="7.0" text-anchor="end" fill="#1e1e1e" stroke="#1e1e1e" stroke-width="0.22">2</text>
<line x1="557.3" y1="482.8" x2="560.5" y2="482.8" stroke="#303030" stroke-width="1.2"/>
<text x="555.9" y="485.9" font-size="7.0" text-anchor="end" fill="#1e1e1e" stroke="#1e1e1e" stroke-width="0.22">3</text>
<line x1="557.3" y1="459.3" x2="560.5" y2="459.3" stroke="#303030" stroke-width="1.2"/>
<text x="555.9" y="462.4" font-size="7.0" text-anchor="end" fill="#1e1e1e" stroke="#1e1e1e" stroke-width="0.22">4</text>
<text transform="translate(546 506.3) rotate(-90)" font-size="6.5" text-anchor="middle" fill="#1e1e1e" stroke="#1e1e1e" stroke-width="0.2" y="1.4">mRNA relative expression</text>
<text x="572.88" y="563.1" font-size="5.6" text-anchor="middle" fill="#1e1e1e" stroke="#1e1e1e" stroke-width="0.2" textLength="7.1" lengthAdjust="spacingAndGlyphs">ctrl</text>
<text x="591.35" y="563.1" font-size="5.6" text-anchor="middle" fill="#1e1e1e" stroke="#1e1e1e" stroke-width="0.2" textLength="19.6" lengthAdjust="spacingAndGlyphs">0,1 mg/L</text>
<text x="610.1" y="563.1" font-size="5.6" text-anchor="middle" fill="#1e1e1e" stroke="#1e1e1e" stroke-width="0.2" textLength="15.6" lengthAdjust="spacingAndGlyphs">1 mg/L</text>
<path d="M572.5 443V437.9H610.3V443" fill="none" stroke="#8e8e8e" stroke-width="1"/>
<circle cx="584.35" cy="432.05" r="1.6" fill="#111"/>
<circle cx="589.05" cy="432.05" r="1.6" fill="#111"/>
<circle cx="593.75" cy="432.05" r="1.6" fill="#111"/>
<circle cx="598.45" cy="432.05" r="1.6" fill="#111"/>
<path d="M572.5 520.6V455.55H589.9V492" fill="none" stroke="#8e8e8e" stroke-width="1"/>
<circle cx="578.85" cy="449.7" r="1.6" fill="#111"/>
<circle cx="583.55" cy="449.7" r="1.6" fill="#111"/>
<path d="M593.6 492V455.55H610.3V461" fill="none" stroke="#8e8e8e" stroke-width="1"/>
<circle cx="599.6" cy="449.7" r="1.6" fill="#111"/>
<circle cx="604.3" cy="449.7" r="1.6" fill="#111"/>
<text x="571.5" y="418.2" font-size="8.4" font-weight="bold" fill="#111" stroke="#111" stroke-width="0.35" textLength="46.2" lengthAdjust="spacingAndGlyphs"><tspan font-style="italic">tnfα 120</tspan><tspan> hpf</tspan></text>
<line x1="100.35" y1="741.8" x2="100.35" y2="740.2" stroke="#707070" stroke-width="1"/>
<line x1="97.35" y1="740.2" x2="103.35" y2="740.2" stroke="#707070" stroke-width="1"/>
<rect x="94.75" y="742.55" width="11.2" height="8.25" fill="#7e7e7e" stroke="#1e1e1e" stroke-width="1.5"/>
<line x1="100.35" y1="750.8" x2="100.35" y2="754.6" stroke="#303030" stroke-width="1.3"/>
<line x1="119" y1="731.6" x2="119" y2="730" stroke="#707070" stroke-width="1"/>
<line x1="116" y1="730" x2="122" y2="730" stroke="#707070" stroke-width="1"/>
<rect x="113.25" y="732.35" width="11.5" height="18.45" fill="#a4a3a9" stroke="#1e1e1e" stroke-width="1.5"/>
<line x1="119" y1="750.8" x2="119" y2="754.6" stroke="#303030" stroke-width="1.3"/>
<line x1="137.85" y1="683.4" x2="137.85" y2="676.9" stroke="#707070" stroke-width="1"/>
<line x1="134.85" y1="676.9" x2="140.85" y2="676.9" stroke="#707070" stroke-width="1"/>
<rect x="132.25" y="684.15" width="11.2" height="66.65" fill="#7e7e7e" stroke="#1e1e1e" stroke-width="1.5"/>
<line x1="137.85" y1="750.8" x2="137.85" y2="754.6" stroke="#303030" stroke-width="1.3"/>
<line x1="87.5" y1="656.3" x2="87.5" y2="751.5" stroke="#303030" stroke-width="1.4"/>
<line x1="86.8" y1="750.8" x2="150.8" y2="750.8" stroke="#303030" stroke-width="1.4"/>
<line x1="84.3" y1="750.8" x2="87.5" y2="750.8" stroke="#303030" stroke-width="1.2"/>
<text x="82.9" y="753.9" font-size="7.0" text-anchor="end" fill="#1e1e1e" stroke="#1e1e1e" stroke-width="0.22">0</text>
<line x1="84.3" y1="732" x2="87.5" y2="732" stroke="#303030" stroke-width="1.2"/>
<text x="82.9" y="735.1" font-size="7.0" text-anchor="end" fill="#1e1e1e" stroke="#1e1e1e" stroke-width="0.22">2</text>
<line x1="84.3" y1="713.2" x2="87.5" y2="713.2" stroke="#303030" stroke-width="1.2"/>
<text x="82.9" y="716.3" font-size="7.0" text-anchor="end" fill="#1e1e1e" stroke="#1e1e1e" stroke-width="0.22">4</text>
<line x1="84.3" y1="694.4" x2="87.5" y2="694.4" stroke="#303030" stroke-width="1.2"/>
<text x="82.9" y="697.5" font-size="7.0" text-anchor="end" fill="#1e1e1e" stroke="#1e1e1e" stroke-width="0.22">6</text>
<line x1="84.3" y1="675.6" x2="87.5" y2="675.6" stroke="#303030" stroke-width="1.2"/>
<text x="82.9" y="678.7" font-size="7.0" text-anchor="end" fill="#1e1e1e" stroke="#1e1e1e" stroke-width="0.22">8</text>
<line x1="84.3" y1="656.8" x2="87.5" y2="656.8" stroke="#303030" stroke-width="1.2"/>
<text x="82.9" y="659.9" font-size="7.0" text-anchor="end" fill="#1e1e1e" stroke="#1e1e1e" stroke-width="0.22">10</text>
<text transform="translate(69.7 703.8) rotate(-90)" font-size="6.5" text-anchor="middle" fill="#1e1e1e" stroke="#1e1e1e" stroke-width="0.2" y="1.4">mRNA relative expression</text>
<text x="100.35" y="760.6" font-size="5.6" text-anchor="middle" fill="#1e1e1e" stroke="#1e1e1e" stroke-width="0.2" textLength="7.1" lengthAdjust="spacingAndGlyphs">ctrl</text>
<text x="119" y="760.6" font-size="5.6" text-anchor="middle" fill="#1e1e1e" stroke="#1e1e1e" stroke-width="0.2" textLength="19.6" lengthAdjust="spacingAndGlyphs">0,1 mg/L</text>
<text x="137.85" y="760.6" font-size="5.6" text-anchor="middle" fill="#1e1e1e" stroke="#1e1e1e" stroke-width="0.2" textLength="15.6" lengthAdjust="spacingAndGlyphs">1 mg/L</text>
<path d="M100.6 654.1V630.5H138.2V636" fill="none" stroke="#8e8e8e" stroke-width="1"/>
<circle cx="112.35" cy="624.65" r="1.6" fill="#111"/>
<circle cx="117.05" cy="624.65" r="1.6" fill="#111"/>
<circle cx="121.75" cy="624.65" r="1.6" fill="#111"/>
<circle cx="126.45" cy="624.65" r="1.6" fill="#111"/>
<path d="M119.1 654.1V648.2H138.2V671.3" fill="none" stroke="#8e8e8e" stroke-width="1"/>
<circle cx="121.6" cy="642.35" r="1.6" fill="#111"/>
<circle cx="126.3" cy="642.35" r="1.6" fill="#111"/>
<circle cx="131" cy="642.35" r="1.6" fill="#111"/>
<circle cx="135.7" cy="642.35" r="1.6" fill="#111"/>
<path d="M100.6 736.1V665.6H119.1V725.9" fill="none" stroke="#8e8e8e" stroke-width="1"/>
<circle cx="107.5" cy="659.75" r="1.6" fill="#111"/>
<circle cx="112.2" cy="659.75" r="1.6" fill="#111"/>
<text x="97" y="612.9" font-size="8.4" font-weight="bold" fill="#111" stroke="#111" stroke-width="0.35" textLength="34.6" lengthAdjust="spacingAndGlyphs"><tspan font-style="italic">il4 72</tspan><tspan> hpf</tspan></text>
<line x1="230.6" y1="688.7" x2="230.6" y2="685" stroke="#707070" stroke-width="1"/>
<line x1="227.6" y1="685" x2="233.6" y2="685" stroke="#707070" stroke-width="1"/>
<rect x="224.95" y="689.45" width="11.3" height="61.35" fill="#7e7e7e" stroke="#1e1e1e" stroke-width="1.5"/>
<line x1="230.6" y1="750.8" x2="230.6" y2="754.6" stroke="#303030" stroke-width="1.3"/>
<line x1="249.35" y1="702.4" x2="249.35" y2="697.3" stroke="#707070" stroke-width="1"/>
<line x1="246.35" y1="697.3" x2="252.35" y2="697.3" stroke="#707070" stroke-width="1"/>
<rect x="243.65" y="703.15" width="11.4" height="47.65" fill="#a4a3a9" stroke="#1e1e1e" stroke-width="1.5"/>
<line x1="249.35" y1="750.8" x2="249.35" y2="754.6" stroke="#303030" stroke-width="1.3"/>
<line x1="268.1" y1="690.8" x2="268.1" y2="672.8" stroke="#707070" stroke-width="1"/>
<line x1="265.1" y1="672.8" x2="271.1" y2="672.8" stroke="#707070" stroke-width="1"/>
<rect x="262.75" y="691.55" width="10.7" height="59.25" fill="#7e7e7e" stroke="#1e1e1e" stroke-width="1.5"/>
<line x1="268.1" y1="750.8" x2="268.1" y2="754.6" stroke="#303030" stroke-width="1.3"/>
<line x1="218.4" y1="656.3" x2="218.4" y2="751.5" stroke="#303030" stroke-width="1.4"/>
<line x1="217.7" y1="750.8" x2="281" y2="750.8" stroke="#303030" stroke-width="1.4"/>
<line x1="215.2" y1="750.8" x2="218.4" y2="750.8" stroke="#303030" stroke-width="1.2"/>
<text x="213.8" y="753.9" font-size="7.0" text-anchor="end" fill="#1e1e1e" stroke="#1e1e1e" stroke-width="0.22">0.0</text>
<line x1="215.2" y1="719.47" x2="218.4" y2="719.47" stroke="#303030" stroke-width="1.2"/>
<text x="213.8" y="722.57" font-size="7.0" text-anchor="end" fill="#1e1e1e" stroke="#1e1e1e" stroke-width="0.22">0.5</text>
<line x1="215.2" y1="688.13" x2="218.4" y2="688.13" stroke="#303030" stroke-width="1.2"/>
<text x="213.8" y="691.23" font-size="7.0" text-anchor="end" fill="#1e1e1e" stroke="#1e1e1e" stroke-width="0.22">1.0</text>
<line x1="215.2" y1="656.8" x2="218.4" y2="656.8" stroke="#303030" stroke-width="1.2"/>
<text x="213.8" y="659.9" font-size="7.0" text-anchor="end" fill="#1e1e1e" stroke="#1e1e1e" stroke-width="0.22">1.5</text>
<text transform="translate(198 703.8) rotate(-90)" font-size="6.5" text-anchor="middle" fill="#1e1e1e" stroke="#1e1e1e" stroke-width="0.2" y="1.4">mRNA relative expression</text>
<text x="230.6" y="760.6" font-size="5.6" text-anchor="middle" fill="#1e1e1e" stroke="#1e1e1e" stroke-width="0.2" textLength="7.1" lengthAdjust="spacingAndGlyphs">ctrl</text>
<text x="249.35" y="760.6" font-size="5.6" text-anchor="middle" fill="#1e1e1e" stroke="#1e1e1e" stroke-width="0.2" textLength="19.6" lengthAdjust="spacingAndGlyphs">0,1 mg/L</text>
<text x="268.1" y="760.6" font-size="5.6" text-anchor="middle" fill="#1e1e1e" stroke="#1e1e1e" stroke-width="0.2" textLength="15.6" lengthAdjust="spacingAndGlyphs">1 mg/L</text>
<path d="M230.3 655.5V643.1H268.7V649.3" fill="none" stroke="#8e8e8e" stroke-width="1"/>
<text x="249.5" y="639.7" font-size="6.7" text-anchor="middle" fill="#333" stroke="#333" stroke-width="0.22">ns</text>
<path d="M230.3 679.3V661.5H247.3V691.6" fill="none" stroke="#8e8e8e" stroke-width="1"/>
<text x="238.8" y="658.1" font-size="6.7" text-anchor="middle" fill="#333" stroke="#333" stroke-width="0.22">ns</text>
<path d="M251.7 691.6V661.5H268.7V666.6" fill="none" stroke="#8e8e8e" stroke-width="1"/>
<text x="260.2" y="658.1" font-size="6.7" text-anchor="middle" fill="#333" stroke="#333" stroke-width="0.22">ns</text>
<text x="232.3" y="624.1" font-size="8.4" font-weight="bold" fill="#111" stroke="#111" stroke-width="0.35" textLength="38.9" lengthAdjust="spacingAndGlyphs"><tspan font-style="italic">il4 120</tspan><tspan> hpf</tspan></text>
<line x1="444.12" y1="739.6" x2="444.12" y2="738.6" stroke="#707070" stroke-width="1"/>
<line x1="441.12" y1="738.6" x2="447.12" y2="738.6" stroke="#707070" stroke-width="1"/>
<rect x="438.65" y="740.35" width="10.95" height="10.45" fill="#7e7e7e" stroke="#1e1e1e" stroke-width="1.5"/>
<line x1="444.12" y1="750.8" x2="444.12" y2="754.6" stroke="#303030" stroke-width="1.3"/>
<line x1="462.9" y1="721.8" x2="462.9" y2="717.7" stroke="#707070" stroke-width="1"/>
<line x1="459.9" y1="717.7" x2="465.9" y2="717.7" stroke="#707070" stroke-width="1"/>
<rect x="457.55" y="722.55" width="10.7" height="28.25" fill="#a4a3a9" stroke="#1e1e1e" stroke-width="1.5"/>
<line x1="462.9" y1="750.8" x2="462.9" y2="754.6" stroke="#303030" stroke-width="1.3"/>
<line x1="481.62" y1="669.7" x2="481.62" y2="663.6" stroke="#707070" stroke-width="1"/>
<line x1="478.62" y1="663.6" x2="484.62" y2="663.6" stroke="#707070" stroke-width="1"/>
<rect x="476.3" y="670.45" width="10.65" height="80.35" fill="#7e7e7e" stroke="#1e1e1e" stroke-width="1.5"/>
<line x1="481.62" y1="750.8" x2="481.62" y2="754.6" stroke="#303030" stroke-width="1.3"/>
<line x1="431.5" y1="656.3" x2="431.5" y2="751.5" stroke="#303030" stroke-width="1.4"/>
<line x1="430.8" y1="750.8" x2="494.8" y2="750.8" stroke="#303030" stroke-width="1.4"/>
<line x1="428.3" y1="750.8" x2="431.5" y2="750.8" stroke="#303030" stroke-width="1.2"/>
<text x="426.9" y="753.9" font-size="7.0" text-anchor="end" fill="#1e1e1e" stroke="#1e1e1e" stroke-width="0.22">0</text>
<line x1="428.3" y1="727.3" x2="431.5" y2="727.3" stroke="#303030" stroke-width="1.2"/>
<text x="426.9" y="730.4" font-size="7.0" text-anchor="end" fill="#1e1e1e" stroke="#1e1e1e" stroke-width="0.22">2</text>
<line x1="428.3" y1="703.8" x2="431.5" y2="703.8" stroke="#303030" stroke-width="1.2"/>
<text x="426.9" y="706.9" font-size="7.0" text-anchor="end" fill="#1e1e1e" stroke="#1e1e1e" stroke-width="0.22">4</text>
<line x1="428.3" y1="680.3" x2="431.5" y2="680.3" stroke="#303030" stroke-width="1.2"/>
<text x="426.9" y="683.4" font-size="7.0" text-anchor="end" fill="#1e1e1e" stroke="#1e1e1e" stroke-width="0.22">6</text>
<line x1="428.3" y1="656.8" x2="431.5" y2="656.8" stroke="#303030" stroke-width="1.2"/>
<text x="426.9" y="659.9" font-size="7.0" text-anchor="end" fill="#1e1e1e" stroke="#1e1e1e" stroke-width="0.22">8</text>
<text transform="translate(417 703.8) rotate(-90)" font-size="6.5" text-anchor="middle" fill="#1e1e1e" stroke="#1e1e1e" stroke-width="0.2" y="1.4">mRNA relative expression</text>
<text x="444.12" y="760.6" font-size="5.6" text-anchor="middle" fill="#1e1e1e" stroke="#1e1e1e" stroke-width="0.2" textLength="7.1" lengthAdjust="spacingAndGlyphs">ctrl</text>
<text x="462.9" y="760.6" font-size="5.6" text-anchor="middle" fill="#1e1e1e" stroke="#1e1e1e" stroke-width="0.2" textLength="19.6" lengthAdjust="spacingAndGlyphs">0,1 mg/L</text>
<text x="481.62" y="760.6" font-size="5.6" text-anchor="middle" fill="#1e1e1e" stroke="#1e1e1e" stroke-width="0.2" textLength="15.6" lengthAdjust="spacingAndGlyphs">1 mg/L</text>
<path d="M444.2 640.8V617.55H482V622.7" fill="none" stroke="#8e8e8e" stroke-width="1"/>
<circle cx="456.05" cy="611.7" r="1.6" fill="#111"/>
<circle cx="460.75" cy="611.7" r="1.6" fill="#111"/>
<circle cx="465.45" cy="611.7" r="1.6" fill="#111"/>
<circle cx="470.15" cy="611.7" r="1.6" fill="#111"/>
<path d="M463.4 641.1V635.4H482V658.5" fill="none" stroke="#8e8e8e" stroke-width="1"/>
<circle cx="465.65" cy="629.55" r="1.6" fill="#111"/>
<circle cx="470.35" cy="629.55" r="1.6" fill="#111"/>
<circle cx="475.05" cy="629.55" r="1.6" fill="#111"/>
<circle cx="479.75" cy="629.55" r="1.6" fill="#111"/>
<path d="M444.2 734.1V652.9H463.4V712.6" fill="none" stroke="#8e8e8e" stroke-width="1"/>
<circle cx="446.75" cy="647.05" r="1.6" fill="#111"/>
<circle cx="451.45" cy="647.05" r="1.6" fill="#111"/>
<circle cx="456.15" cy="647.05" r="1.6" fill="#111"/>
<circle cx="460.85" cy="647.05" r="1.6" fill="#111"/>
<text x="440.1" y="602.1" font-size="8.4" font-weight="bold" fill="#111" stroke="#111" stroke-width="0.35" textLength="42.1" lengthAdjust="spacingAndGlyphs"><tspan font-style="italic">il13 72</tspan><tspan> hpf</tspan></text>
<line x1="572.88" y1="741.8" x2="572.88" y2="738.6" stroke="#707070" stroke-width="1"/>
<line x1="569.88" y1="738.6" x2="575.88" y2="738.6" stroke="#707070" stroke-width="1"/>
<rect x="567.35" y="742.55" width="11.05" height="8.25" fill="#7e7e7e" stroke="#1e1e1e" stroke-width="1.5"/>
<line x1="572.88" y1="750.8" x2="572.88" y2="754.6" stroke="#303030" stroke-width="1.3"/>
<line x1="591.35" y1="672.4" x2="591.35" y2="662.1" stroke="#707070" stroke-width="1"/>
<line x1="588.35" y1="662.1" x2="594.35" y2="662.1" stroke="#707070" stroke-width="1"/>
<rect x="585.55" y="673.15" width="11.6" height="77.65" fill="#a4a3a9" stroke="#1e1e1e" stroke-width="1.5"/>
<line x1="591.35" y1="750.8" x2="591.35" y2="754.6" stroke="#303030" stroke-width="1.3"/>
<line x1="610.1" y1="702.4" x2="610.1" y2="690.8" stroke="#707070" stroke-width="1"/>
<line x1="607.1" y1="690.8" x2="613.1" y2="690.8" stroke="#707070" stroke-width="1"/>
<rect x="604.35" y="703.15" width="11.5" height="47.65" fill="#7e7e7e" stroke="#1e1e1e" stroke-width="1.5"/>
<line x1="610.1" y1="750.8" x2="610.1" y2="754.6" stroke="#303030" stroke-width="1.3"/>
<line x1="560.5" y1="656.3" x2="560.5" y2="751.5" stroke="#303030" stroke-width="1.4"/>
<line x1="559.8" y1="750.8" x2="622.8" y2="750.8" stroke="#303030" stroke-width="1.4"/>
<line x1="557.3" y1="750.8" x2="560.5" y2="750.8" stroke="#303030" stroke-width="1.2"/>
<text x="555.9" y="753.9" font-size="7.0" text-anchor="end" fill="#1e1e1e" stroke="#1e1e1e" stroke-width="0.22">0</text>
<line x1="557.3" y1="732" x2="560.5" y2="732" stroke="#303030" stroke-width="1.2"/>
<text x="555.9" y="735.1" font-size="7.0" text-anchor="end" fill="#1e1e1e" stroke="#1e1e1e" stroke-width="0.22">2</text>
<line x1="557.3" y1="713.2" x2="560.5" y2="713.2" stroke="#303030" stroke-width="1.2"/>
<text x="555.9" y="716.3" font-size="7.0" text-anchor="end" fill="#1e1e1e" stroke="#1e1e1e" stroke-width="0.22">4</text>
<line x1="557.3" y1="694.4" x2="560.5" y2="694.4" stroke="#303030" stroke-width="1.2"/>
<text x="555.9" y="697.5" font-size="7.0" text-anchor="end" fill="#1e1e1e" stroke="#1e1e1e" stroke-width="0.22">6</text>
<line x1="557.3" y1="675.6" x2="560.5" y2="675.6" stroke="#303030" stroke-width="1.2"/>
<text x="555.9" y="678.7" font-size="7.0" text-anchor="end" fill="#1e1e1e" stroke="#1e1e1e" stroke-width="0.22">8</text>
<line x1="557.3" y1="656.8" x2="560.5" y2="656.8" stroke="#303030" stroke-width="1.2"/>
<text x="555.9" y="659.9" font-size="7.0" text-anchor="end" fill="#1e1e1e" stroke="#1e1e1e" stroke-width="0.22">10</text>
<text transform="translate(542 703.8) rotate(-90)" font-size="6.5" text-anchor="middle" fill="#1e1e1e" stroke="#1e1e1e" stroke-width="0.2" y="1.4">mRNA relative expression</text>
<text x="572.88" y="760.6" font-size="5.6" text-anchor="middle" fill="#1e1e1e" stroke="#1e1e1e" stroke-width="0.2" textLength="7.1" lengthAdjust="spacingAndGlyphs">ctrl</text>
<text x="591.35" y="760.6" font-size="5.6" text-anchor="middle" fill="#1e1e1e" stroke="#1e1e1e" stroke-width="0.2" textLength="19.6" lengthAdjust="spacingAndGlyphs">0,1 mg/L</text>
<text x="610.1" y="760.6" font-size="5.6" text-anchor="middle" fill="#1e1e1e" stroke="#1e1e1e" stroke-width="0.2" textLength="15.6" lengthAdjust="spacingAndGlyphs">1 mg/L</text>
<path d="M572.5 639.9V616.5H610.3V621.7" fill="none" stroke="#8e8e8e" stroke-width="1"/>
<circle cx="586.7" cy="610.65" r="1.6" fill="#111"/>
<circle cx="591.4" cy="610.65" r="1.6" fill="#111"/>
<circle cx="596.1" cy="610.65" r="1.6" fill="#111"/>
<path d="M591.5 639.9V633.65H610.3V685" fill="none" stroke="#8e8e8e" stroke-width="1"/>
<circle cx="596.2" cy="627.8" r="1.6" fill="#111"/>
<circle cx="600.9" cy="627.8" r="1.6" fill="#111"/>
<circle cx="605.6" cy="627.8" r="1.6" fill="#111"/>
<path d="M572.5 733V651.3H591.5V656.4" fill="none" stroke="#8e8e8e" stroke-width="1"/>
<circle cx="574.95" cy="645.45" r="1.6" fill="#111"/>
<circle cx="579.65" cy="645.45" r="1.6" fill="#111"/>
<circle cx="584.35" cy="645.45" r="1.6" fill="#111"/>
<circle cx="589.05" cy="645.45" r="1.6" fill="#111"/>
<text x="571.5" y="600.9" font-size="8.4" font-weight="bold" fill="#111" stroke="#111" stroke-width="0.35" textLength="43.5" lengthAdjust="spacingAndGlyphs"><tspan font-style="italic">il13 120</tspan><tspan> hpf</tspan></text>
<line x1="100.35" y1="876.4" x2="100.35" y2="870.7" stroke="#707070" stroke-width="1"/>
<line x1="97.35" y1="870.7" x2="103.35" y2="870.7" stroke="#707070" stroke-width="1"/>
<rect x="94.75" y="877.15" width="11.2" height="59.8" fill="#7e7e7e" stroke="#1e1e1e" stroke-width="1.5"/>
<line x1="100.35" y1="936.95" x2="100.35" y2="940.75" stroke="#303030" stroke-width="1.3"/>
<line x1="119" y1="906" x2="119" y2="900.5" stroke="#707070" stroke-width="1"/>
<line x1="116" y1="900.5" x2="122" y2="900.5" stroke="#707070" stroke-width="1"/>
<rect x="113.25" y="906.75" width="11.5" height="30.2" fill="#a4a3a9" stroke="#1e1e1e" stroke-width="1.5"/>
<line x1="119" y1="936.95" x2="119" y2="940.75" stroke="#303030" stroke-width="1.3"/>
<line x1="137.85" y1="913.6" x2="137.85" y2="908.5" stroke="#707070" stroke-width="1"/>
<line x1="134.85" y1="908.5" x2="140.85" y2="908.5" stroke="#707070" stroke-width="1"/>
<rect x="132.25" y="914.35" width="11.2" height="22.6" fill="#7e7e7e" stroke="#1e1e1e" stroke-width="1.5"/>
<line x1="137.85" y1="936.95" x2="137.85" y2="940.75" stroke="#303030" stroke-width="1.3"/>
<line x1="87.5" y1="842.8" x2="87.5" y2="937.65" stroke="#303030" stroke-width="1.4"/>
<line x1="86.8" y1="936.95" x2="150.8" y2="936.95" stroke="#303030" stroke-width="1.4"/>
<line x1="84.3" y1="936.95" x2="87.5" y2="936.95" stroke="#303030" stroke-width="1.2"/>
<text x="82.9" y="940.05" font-size="7.0" text-anchor="end" fill="#1e1e1e" stroke="#1e1e1e" stroke-width="0.22">0.0</text>
<line x1="84.3" y1="905.73" x2="87.5" y2="905.73" stroke="#303030" stroke-width="1.2"/>
<text x="82.9" y="908.83" font-size="7.0" text-anchor="end" fill="#1e1e1e" stroke="#1e1e1e" stroke-width="0.22">0.5</text>
<line x1="84.3" y1="874.52" x2="87.5" y2="874.52" stroke="#303030" stroke-width="1.2"/>
<text x="82.9" y="877.62" font-size="7.0" text-anchor="end" fill="#1e1e1e" stroke="#1e1e1e" stroke-width="0.22">1.0</text>
<line x1="84.3" y1="843.3" x2="87.5" y2="843.3" stroke="#303030" stroke-width="1.2"/>
<text x="82.9" y="846.4" font-size="7.0" text-anchor="end" fill="#1e1e1e" stroke="#1e1e1e" stroke-width="0.22">1.5</text>
<text transform="translate(67.7 890.12) rotate(-90)" font-size="6.5" text-anchor="middle" fill="#1e1e1e" stroke="#1e1e1e" stroke-width="0.2" y="1.4">mRNA relative expression</text>
<text x="100.35" y="946.75" font-size="5.6" text-anchor="middle" fill="#1e1e1e" stroke="#1e1e1e" stroke-width="0.2" textLength="7.1" lengthAdjust="spacingAndGlyphs">ctrl</text>
<text x="119" y="946.75" font-size="5.6" text-anchor="middle" fill="#1e1e1e" stroke="#1e1e1e" stroke-width="0.2" textLength="19.6" lengthAdjust="spacingAndGlyphs">0,1 mg/L</text>
<text x="137.85" y="946.75" font-size="5.6" text-anchor="middle" fill="#1e1e1e" stroke="#1e1e1e" stroke-width="0.2" textLength="15.6" lengthAdjust="spacingAndGlyphs">1 mg/L</text>
<path d="M100.7 847.9V841.3H138.2V847.3" fill="none" stroke="#8e8e8e" stroke-width="1"/>
<circle cx="112.4" cy="835.45" r="1.6" fill="#111"/>
<circle cx="117.1" cy="835.45" r="1.6" fill="#111"/>
<circle cx="121.8" cy="835.45" r="1.6" fill="#111"/>
<circle cx="126.5" cy="835.45" r="1.6" fill="#111"/>
<path d="M100.7 865.6V859.4H117.5V894.8" fill="none" stroke="#8e8e8e" stroke-width="1"/>
<circle cx="102.05" cy="853.55" r="1.6" fill="#111"/>
<circle cx="106.75" cy="853.55" r="1.6" fill="#111"/>
<circle cx="111.45" cy="853.55" r="1.6" fill="#111"/>
<circle cx="116.15" cy="853.55" r="1.6" fill="#111"/>
<path d="M120.7 894.8V859.4H138.4V903" fill="none" stroke="#8e8e8e" stroke-width="1"/>
<text x="129.55" y="856" font-size="6.7" text-anchor="middle" fill="#333" stroke="#333" stroke-width="0.22">ns</text>
<text x="99.2" y="821.4" font-size="8.4" font-weight="bold" fill="#111" stroke="#111" stroke-width="0.35" textLength="40.5" lengthAdjust="spacingAndGlyphs"><tspan font-style="italic">infγ 72</tspan><tspan> hpf</tspan></text>
<line x1="230.6" y1="914.6" x2="230.6" y2="909.5" stroke="#707070" stroke-width="1"/>
<line x1="227.6" y1="909.5" x2="233.6" y2="909.5" stroke="#707070" stroke-width="1"/>
<rect x="224.95" y="915.35" width="11.3" height="21.6" fill="#7e7e7e" stroke="#1e1e1e" stroke-width="1.5"/>
<line x1="230.6" y1="936.95" x2="230.6" y2="940.75" stroke="#303030" stroke-width="1.3"/>
<line x1="249.35" y1="893.8" x2="249.35" y2="887.6" stroke="#707070" stroke-width="1"/>
<line x1="246.35" y1="887.6" x2="252.35" y2="887.6" stroke="#707070" stroke-width="1"/>
<rect x="243.65" y="894.55" width="11.4" height="42.4" fill="#a4a3a9" stroke="#1e1e1e" stroke-width="1.5"/>
<line x1="249.35" y1="936.95" x2="249.35" y2="940.75" stroke="#303030" stroke-width="1.3"/>
<line x1="268.1" y1="867.2" x2="268.1" y2="861.5" stroke="#707070" stroke-width="1"/>
<line x1="265.1" y1="861.5" x2="271.1" y2="861.5" stroke="#707070" stroke-width="1"/>
<rect x="262.75" y="867.95" width="10.7" height="69" fill="#7e7e7e" stroke="#1e1e1e" stroke-width="1.5"/>
<line x1="268.1" y1="936.95" x2="268.1" y2="940.75" stroke="#303030" stroke-width="1.3"/>
<line x1="218.4" y1="842.8" x2="218.4" y2="937.65" stroke="#303030" stroke-width="1.4"/>
<line x1="217.7" y1="936.95" x2="281" y2="936.95" stroke="#303030" stroke-width="1.4"/>
<line x1="215.2" y1="936.95" x2="218.4" y2="936.95" stroke="#303030" stroke-width="1.2"/>
<text x="213.8" y="940.05" font-size="7.0" text-anchor="end" fill="#1e1e1e" stroke="#1e1e1e" stroke-width="0.22">0</text>
<line x1="215.2" y1="913.54" x2="218.4" y2="913.54" stroke="#303030" stroke-width="1.2"/>
<text x="213.8" y="916.64" font-size="7.0" text-anchor="end" fill="#1e1e1e" stroke="#1e1e1e" stroke-width="0.22">1</text>
<line x1="215.2" y1="890.12" x2="218.4" y2="890.12" stroke="#303030" stroke-width="1.2"/>
<text x="213.8" y="893.23" font-size="7.0" text-anchor="end" fill="#1e1e1e" stroke="#1e1e1e" stroke-width="0.22">2</text>
<line x1="215.2" y1="866.71" x2="218.4" y2="866.71" stroke="#303030" stroke-width="1.2"/>
<text x="213.8" y="869.81" font-size="7.0" text-anchor="end" fill="#1e1e1e" stroke="#1e1e1e" stroke-width="0.22">3</text>
<line x1="215.2" y1="843.3" x2="218.4" y2="843.3" stroke="#303030" stroke-width="1.2"/>
<text x="213.8" y="846.4" font-size="7.0" text-anchor="end" fill="#1e1e1e" stroke="#1e1e1e" stroke-width="0.22">4</text>
<text transform="translate(203.4 890.12) rotate(-90)" font-size="6.5" text-anchor="middle" fill="#1e1e1e" stroke="#1e1e1e" stroke-width="0.2" y="1.4">mRNA relative expression</text>
<text x="230.6" y="946.75" font-size="5.6" text-anchor="middle" fill="#1e1e1e" stroke="#1e1e1e" stroke-width="0.2" textLength="7.1" lengthAdjust="spacingAndGlyphs">ctrl</text>
<text x="249.35" y="946.75" font-size="5.6" text-anchor="middle" fill="#1e1e1e" stroke="#1e1e1e" stroke-width="0.2" textLength="19.6" lengthAdjust="spacingAndGlyphs">0,1 mg/L</text>
<text x="268.1" y="946.75" font-size="5.6" text-anchor="middle" fill="#1e1e1e" stroke="#1e1e1e" stroke-width="0.2" textLength="15.6" lengthAdjust="spacingAndGlyphs">1 mg/L</text>
<path d="M230.3 838.6V815.1H268.7V820.2" fill="none" stroke="#8e8e8e" stroke-width="1"/>
<circle cx="242.45" cy="809.25" r="1.6" fill="#111"/>
<circle cx="247.15" cy="809.25" r="1.6" fill="#111"/>
<circle cx="251.85" cy="809.25" r="1.6" fill="#111"/>
<circle cx="256.55" cy="809.25" r="1.6" fill="#111"/>
<path d="M249.3 838.6V832.5H268.7V856" fill="none" stroke="#8e8e8e" stroke-width="1"/>
<circle cx="251.95" cy="826.65" r="1.6" fill="#111"/>
<circle cx="256.65" cy="826.65" r="1.6" fill="#111"/>
<circle cx="261.35" cy="826.65" r="1.6" fill="#111"/>
<circle cx="266.05" cy="826.65" r="1.6" fill="#111"/>
<path d="M230.3 904V850.2H249.3V882.5" fill="none" stroke="#8e8e8e" stroke-width="1"/>
<circle cx="235.1" cy="844.35" r="1.6" fill="#111"/>
<circle cx="239.8" cy="844.35" r="1.6" fill="#111"/>
<circle cx="244.5" cy="844.35" r="1.6" fill="#111"/>
<text x="229.3" y="795.7" font-size="8.4" font-weight="bold" fill="#111" stroke="#111" stroke-width="0.35" textLength="43.9" lengthAdjust="spacingAndGlyphs"><tspan font-style="italic">infγ 120</tspan><tspan> hpf</tspan></text>
<line x1="444.12" y1="928.1" x2="444.12" y2="925.5" stroke="#707070" stroke-width="1"/>
<line x1="441.12" y1="925.5" x2="447.12" y2="925.5" stroke="#707070" stroke-width="1"/>
<rect x="438.65" y="928.85" width="10.95" height="8.1" fill="#7e7e7e" stroke="#1e1e1e" stroke-width="1.5"/>
<line x1="444.12" y1="936.95" x2="444.12" y2="940.75" stroke="#303030" stroke-width="1.3"/>
<line x1="462.9" y1="900.5" x2="462.9" y2="899.3" stroke="#707070" stroke-width="1"/>
<line x1="459.9" y1="899.3" x2="465.9" y2="899.3" stroke="#707070" stroke-width="1"/>
<rect x="457.55" y="901.25" width="10.7" height="35.7" fill="#a4a3a9" stroke="#1e1e1e" stroke-width="1.5"/>
<line x1="462.9" y1="936.95" x2="462.9" y2="940.75" stroke="#303030" stroke-width="1.3"/>
<line x1="481.62" y1="866.8" x2="481.62" y2="852.3" stroke="#707070" stroke-width="1"/>
<line x1="478.62" y1="852.3" x2="484.62" y2="852.3" stroke="#707070" stroke-width="1"/>
<rect x="476.3" y="867.55" width="10.65" height="69.4" fill="#7e7e7e" stroke="#1e1e1e" stroke-width="1.5"/>
<line x1="481.62" y1="936.95" x2="481.62" y2="940.75" stroke="#303030" stroke-width="1.3"/>
<line x1="431.5" y1="842.8" x2="431.5" y2="937.65" stroke="#303030" stroke-width="1.4"/>
<line x1="430.8" y1="936.95" x2="494.8" y2="936.95" stroke="#303030" stroke-width="1.4"/>
<line x1="428.3" y1="936.95" x2="431.5" y2="936.95" stroke="#303030" stroke-width="1.2"/>
<text x="426.9" y="940.05" font-size="7.0" text-anchor="end" fill="#1e1e1e" stroke="#1e1e1e" stroke-width="0.22">0</text>
<line x1="428.3" y1="918.22" x2="431.5" y2="918.22" stroke="#303030" stroke-width="1.2"/>
<text x="426.9" y="921.32" font-size="7.0" text-anchor="end" fill="#1e1e1e" stroke="#1e1e1e" stroke-width="0.22">2</text>
<line x1="428.3" y1="899.49" x2="431.5" y2="899.49" stroke="#303030" stroke-width="1.2"/>
<text x="426.9" y="902.59" font-size="7.0" text-anchor="end" fill="#1e1e1e" stroke="#1e1e1e" stroke-width="0.22">4</text>
<line x1="428.3" y1="880.76" x2="431.5" y2="880.76" stroke="#303030" stroke-width="1.2"/>
<text x="426.9" y="883.86" font-size="7.0" text-anchor="end" fill="#1e1e1e" stroke="#1e1e1e" stroke-width="0.22">6</text>
<line x1="428.3" y1="862.03" x2="431.5" y2="862.03" stroke="#303030" stroke-width="1.2"/>
<text x="426.9" y="865.13" font-size="7.0" text-anchor="end" fill="#1e1e1e" stroke="#1e1e1e" stroke-width="0.22">8</text>
<line x1="428.3" y1="843.3" x2="431.5" y2="843.3" stroke="#303030" stroke-width="1.2"/>
<text x="426.9" y="846.4" font-size="7.0" text-anchor="end" fill="#1e1e1e" stroke="#1e1e1e" stroke-width="0.22">10</text>
<text transform="translate(413.6 890.12) rotate(-90)" font-size="6.5" text-anchor="middle" fill="#1e1e1e" stroke="#1e1e1e" stroke-width="0.2" y="1.4">mRNA relative expression</text>
<text x="444.12" y="946.75" font-size="5.6" text-anchor="middle" fill="#1e1e1e" stroke="#1e1e1e" stroke-width="0.2" textLength="7.1" lengthAdjust="spacingAndGlyphs">ctrl</text>
<text x="462.9" y="946.75" font-size="5.6" text-anchor="middle" fill="#1e1e1e" stroke="#1e1e1e" stroke-width="0.2" textLength="19.6" lengthAdjust="spacingAndGlyphs">0,1 mg/L</text>
<text x="481.62" y="946.75" font-size="5.6" text-anchor="middle" fill="#1e1e1e" stroke="#1e1e1e" stroke-width="0.2" textLength="15.6" lengthAdjust="spacingAndGlyphs">1 mg/L</text>
<path d="M444.55 828.8V823.7H482V828.8" fill="none" stroke="#8e8e8e" stroke-width="1"/>
<circle cx="456.22" cy="817.85" r="1.6" fill="#111"/>
<circle cx="460.92" cy="817.85" r="1.6" fill="#111"/>
<circle cx="465.62" cy="817.85" r="1.6" fill="#111"/>
<circle cx="470.32" cy="817.85" r="1.6" fill="#111"/>
<path d="M444.55 921V841.3H461.2V893.8" fill="none" stroke="#8e8e8e" stroke-width="1"/>
<circle cx="450.52" cy="835.45" r="1.6" fill="#111"/>
<circle cx="455.22" cy="835.45" r="1.6" fill="#111"/>
<path d="M465.3 893.8V841.3H482V846.8" fill="none" stroke="#8e8e8e" stroke-width="1"/>
<circle cx="468.95" cy="835.45" r="1.6" fill="#111"/>
<circle cx="473.65" cy="835.45" r="1.6" fill="#111"/>
<circle cx="478.35" cy="835.45" r="1.6" fill="#111"/>
<text x="441.3" y="805.3" font-size="8.4" font-weight="bold" fill="#111" stroke="#111" stroke-width="0.35" textLength="46.4" lengthAdjust="spacingAndGlyphs"><tspan font-style="italic">tbx21 72</tspan><tspan> hpf</tspan></text>
<line x1="572.88" y1="925.5" x2="572.88" y2="923.4" stroke="#707070" stroke-width="1"/>
<line x1="569.88" y1="923.4" x2="575.88" y2="923.4" stroke="#707070" stroke-width="1"/>
<rect x="567.35" y="926.25" width="11.05" height="10.7" fill="#7e7e7e" stroke="#1e1e1e" stroke-width="1.5"/>
<line x1="572.88" y1="936.95" x2="572.88" y2="940.75" stroke="#303030" stroke-width="1.3"/>
<line x1="591.35" y1="921.4" x2="591.35" y2="920.3" stroke="#707070" stroke-width="1"/>
<line x1="588.35" y1="920.3" x2="594.35" y2="920.3" stroke="#707070" stroke-width="1"/>
<rect x="585.55" y="922.15" width="11.6" height="14.8" fill="#a4a3a9" stroke="#1e1e1e" stroke-width="1.5"/>
<line x1="591.35" y1="936.95" x2="591.35" y2="940.75" stroke="#303030" stroke-width="1.3"/>
<line x1="610.1" y1="872.7" x2="610.1" y2="866.2" stroke="#707070" stroke-width="1"/>
<line x1="607.1" y1="866.2" x2="613.1" y2="866.2" stroke="#707070" stroke-width="1"/>
<rect x="604.35" y="873.45" width="11.5" height="63.5" fill="#7e7e7e" stroke="#1e1e1e" stroke-width="1.5"/>
<line x1="610.1" y1="936.95" x2="610.1" y2="940.75" stroke="#303030" stroke-width="1.3"/>
<line x1="560.5" y1="842.8" x2="560.5" y2="937.65" stroke="#303030" stroke-width="1.4"/>
<line x1="559.8" y1="936.95" x2="622.8" y2="936.95" stroke="#303030" stroke-width="1.4"/>
<line x1="557.3" y1="936.95" x2="560.5" y2="936.95" stroke="#303030" stroke-width="1.2"/>
<text x="555.9" y="940.05" font-size="7.0" text-anchor="end" fill="#1e1e1e" stroke="#1e1e1e" stroke-width="0.22">0</text>
<line x1="557.3" y1="913.54" x2="560.5" y2="913.54" stroke="#303030" stroke-width="1.2"/>
<text x="555.9" y="916.64" font-size="7.0" text-anchor="end" fill="#1e1e1e" stroke="#1e1e1e" stroke-width="0.22">2</text>
<line x1="557.3" y1="890.12" x2="560.5" y2="890.12" stroke="#303030" stroke-width="1.2"/>
<text x="555.9" y="893.23" font-size="7.0" text-anchor="end" fill="#1e1e1e" stroke="#1e1e1e" stroke-width="0.22">4</text>
<line x1="557.3" y1="866.71" x2="560.5" y2="866.71" stroke="#303030" stroke-width="1.2"/>
<text x="555.9" y="869.81" font-size="7.0" text-anchor="end" fill="#1e1e1e" stroke="#1e1e1e" stroke-width="0.22">6</text>
<line x1="557.3" y1="843.3" x2="560.5" y2="843.3" stroke="#303030" stroke-width="1.2"/>
<text x="555.9" y="846.4" font-size="7.0" text-anchor="end" fill="#1e1e1e" stroke="#1e1e1e" stroke-width="0.22">8</text>
<text transform="translate(545.5 890.12) rotate(-90)" font-size="6.5" text-anchor="middle" fill="#1e1e1e" stroke="#1e1e1e" stroke-width="0.2" y="1.4">mRNA relative expression</text>
<text x="572.88" y="946.75" font-size="5.6" text-anchor="middle" fill="#1e1e1e" stroke="#1e1e1e" stroke-width="0.2" textLength="7.1" lengthAdjust="spacingAndGlyphs">ctrl</text>
<text x="591.35" y="946.75" font-size="5.6" text-anchor="middle" fill="#1e1e1e" stroke="#1e1e1e" stroke-width="0.2" textLength="19.6" lengthAdjust="spacingAndGlyphs">0,1 mg/L</text>
<text x="610.1" y="946.75" font-size="5.6" text-anchor="middle" fill="#1e1e1e" stroke="#1e1e1e" stroke-width="0.2" textLength="15.6" lengthAdjust="spacingAndGlyphs">1 mg/L</text>
<path d="M572.5 850V837.4H610.3V843.4" fill="none" stroke="#8e8e8e" stroke-width="1"/>
<circle cx="584.35" cy="831.55" r="1.6" fill="#111"/>
<circle cx="589.05" cy="831.55" r="1.6" fill="#111"/>
<circle cx="593.75" cy="831.55" r="1.6" fill="#111"/>
<circle cx="598.45" cy="831.55" r="1.6" fill="#111"/>
<path d="M572.5 917.3V855.4H589.9V915.2" fill="none" stroke="#8e8e8e" stroke-width="1"/>
<text x="581.2" y="852" font-size="6.7" text-anchor="middle" fill="#333" stroke="#333" stroke-width="0.22">ns</text>
<path d="M593.6 915.2V855.4H610.3V861.1" fill="none" stroke="#8e8e8e" stroke-width="1"/>
<circle cx="594.9" cy="849.55" r="1.6" fill="#111"/>
<circle cx="599.6" cy="849.55" r="1.6" fill="#111"/>
<circle cx="604.3" cy="849.55" r="1.6" fill="#111"/>
<circle cx="609" cy="849.55" r="1.6" fill="#111"/>
<text x="567.4" y="818.2" font-size="8.4" font-weight="bold" fill="#111" stroke="#111" stroke-width="0.35" textLength="50.7" lengthAdjust="spacingAndGlyphs"><tspan font-style="italic">tbx21 120</tspan><tspan> hpf</tspan></text>
<text transform="translate(0.9 30.6) scale(0.88 1)" font-size="14.2" fill="#111" stroke="#111" stroke-width="0.45">A</text>
<text transform="translate(49.29 34) scale(0.85 1)" font-size="14.2" fill="#111" stroke="#111" stroke-width="0.45">a</text>
<text transform="translate(178.96 35.2) scale(1.04 1)" font-size="14.2" fill="#111" stroke="#111" stroke-width="0.45">b</text>
<text transform="translate(367.59 30.8) scale(0.89 1)" font-size="14.2" fill="#111" stroke="#111" stroke-width="0.45">B</text>
<text transform="translate(412.99 34.2) scale(0.85 1)" font-size="14.2" fill="#111" stroke="#111" stroke-width="0.45">a</text>
<text transform="translate(543.06 35.2) scale(1.04 1)" font-size="14.2" fill="#111" stroke="#111" stroke-width="0.45">b</text>
<text transform="translate(0.33 224.3) scale(0.89 1)" font-size="14.2" fill="#111" stroke="#111" stroke-width="0.45">C</text>
<text transform="translate(49.19 225.9) scale(0.85 1)" font-size="14.2" fill="#111" stroke="#111" stroke-width="0.45">a</text>
<text transform="translate(178.86 227.4) scale(1.04 1)" font-size="14.2" fill="#111" stroke="#111" stroke-width="0.45">b</text>
<text transform="translate(366.96 224.3) scale(0.99 1)" font-size="14.2" fill="#111" stroke="#111" stroke-width="0.45">D</text>
<text transform="translate(412.99 227.8) scale(0.85 1)" font-size="14.2" fill="#111" stroke="#111" stroke-width="0.45">a</text>
<text transform="translate(543.06 229.4) scale(1.04 1)" font-size="14.2" fill="#111" stroke="#111" stroke-width="0.45">b</text>
<text transform="translate(-0.1 428.6) scale(0.88 1)" font-size="14.2" fill="#111" stroke="#111" stroke-width="0.45">E</text>
<text transform="translate(49.19 430.2) scale(0.85 1)" font-size="14.2" fill="#111" stroke="#111" stroke-width="0.45">a</text>
<text transform="translate(178.76 431.6) scale(1.04 1)" font-size="14.2" fill="#111" stroke="#111" stroke-width="0.45">b</text>
<text transform="translate(367.44 428.6) scale(0.93 1)" font-size="14.2" fill="#111" stroke="#111" stroke-width="0.45">F</text>
<text transform="translate(412.99 431) scale(0.85 1)" font-size="14.2" fill="#111" stroke="#111" stroke-width="0.45">a</text>
<text transform="translate(543.06 433.1) scale(1.04 1)" font-size="14.2" fill="#111" stroke="#111" stroke-width="0.45">b</text>
<text transform="translate(0.35 620.6) scale(0.86 1)" font-size="14.2" fill="#111" stroke="#111" stroke-width="0.45">G</text>
<text transform="translate(49.19 621.6) scale(0.85 1)" font-size="14.2" fill="#111" stroke="#111" stroke-width="0.45">a</text>
<text transform="translate(178.76 623) scale(1.04 1)" font-size="14.2" fill="#111" stroke="#111" stroke-width="0.45">b</text>
<text transform="translate(367.35 620.6) scale(1.0 1)" font-size="14.2" fill="#111" stroke="#111" stroke-width="0.45">H</text>
<text transform="translate(412.99 621.6) scale(0.85 1)" font-size="14.2" fill="#111" stroke="#111" stroke-width="0.45">a</text>
<text transform="translate(543.06 623) scale(1.04 1)" font-size="14.2" fill="#111" stroke="#111" stroke-width="0.45">b</text>
<text transform="translate(4.6 806.8) scale(1.0 1)" font-size="14.2" fill="#111" stroke="#111" stroke-width="0.45">I</text>
<text transform="translate(49.19 809.3) scale(0.85 1)" font-size="14.2" fill="#111" stroke="#111" stroke-width="0.45">a</text>
<text transform="translate(178.76 810.9) scale(1.04 1)" font-size="14.2" fill="#111" stroke="#111" stroke-width="0.45">b</text>
<text transform="translate(370.2 810.5) scale(0.8 1)" font-size="14.2" fill="#111" stroke="#111" stroke-width="0.45">J</text>
<text transform="translate(412.99 807.8) scale(0.85 1)" font-size="14.2" fill="#111" stroke="#111" stroke-width="0.45">a</text>
<text transform="translate(543.06 809.9) scale(1.04 1)" font-size="14.2" fill="#111" stroke="#111" stroke-width="0.45">b</text>
</svg></body></html>
